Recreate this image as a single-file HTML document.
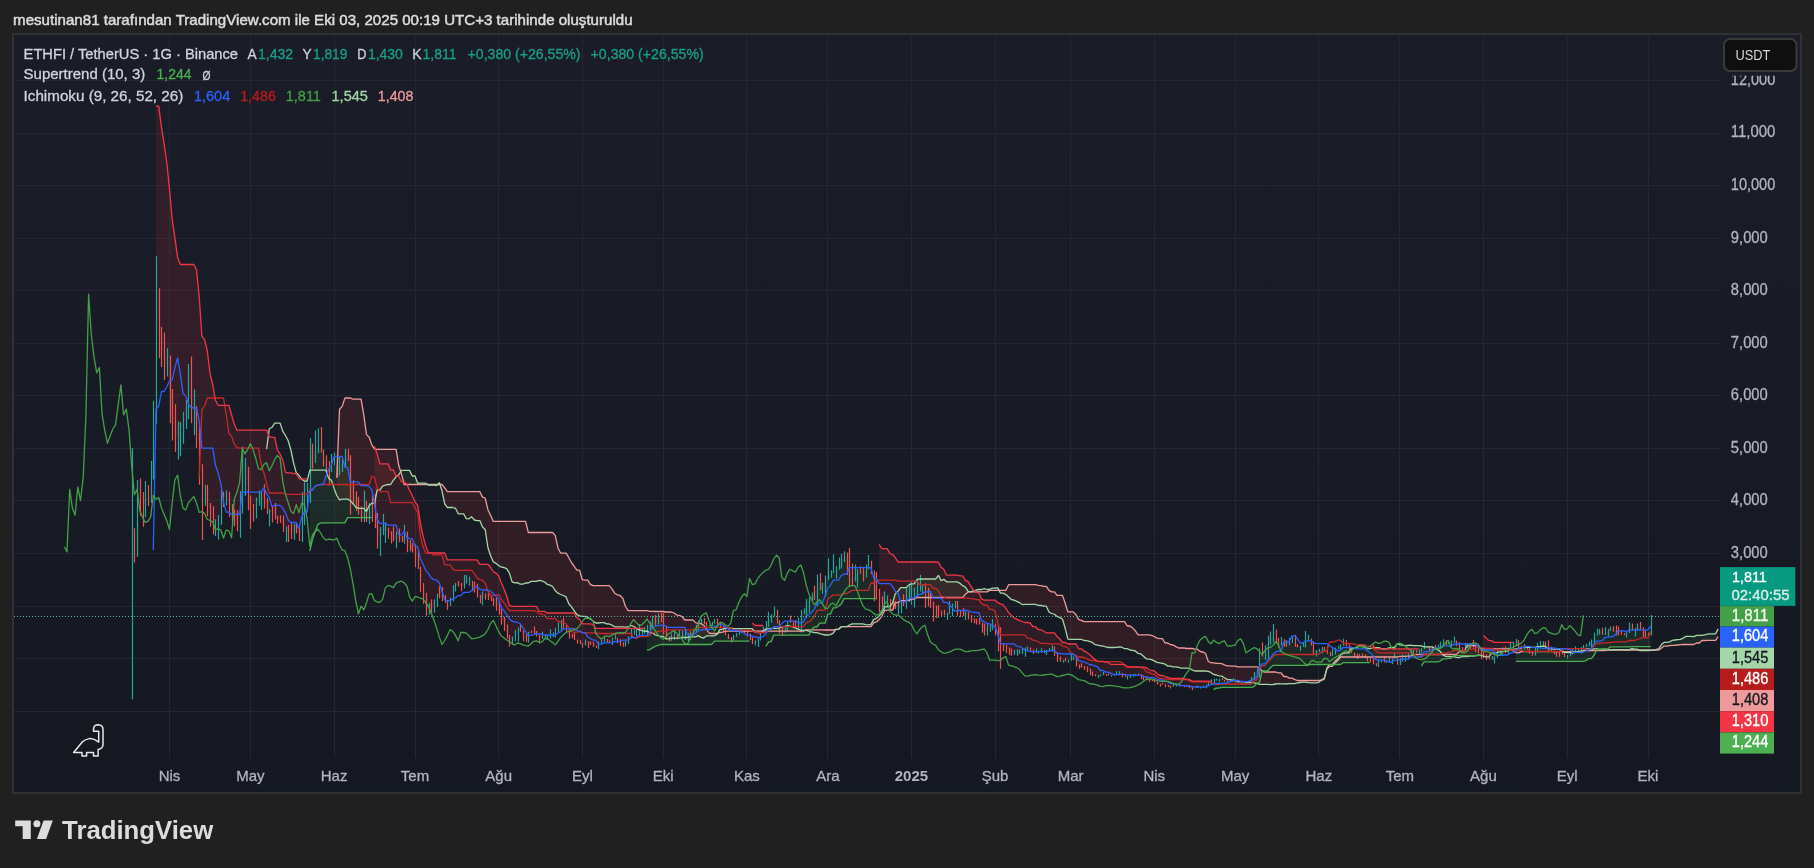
<!DOCTYPE html>
<html><head><meta charset="utf-8"><title>ETHFI / TetherUS</title>
<style>html,body{margin:0;padding:0;background:#202020;width:1814px;height:868px;overflow:hidden}svg{display:block;will-change:transform;filter:blur(0.35px)}</style>
</head><body>
<svg width="1814" height="868" viewBox="0 0 1814 868" font-family="'Liberation Sans', Arial, sans-serif"><rect x="0" y="0" width="1814" height="868" fill="#202020"/>
<rect x="12" y="33" width="1790" height="761" fill="#303135"/>
<defs><linearGradient id="bgg" x1="0" y1="0" x2="0" y2="1"><stop offset="0" stop-color="#1a1c27"/><stop offset="0.5" stop-color="#181b25"/><stop offset="1" stop-color="#141821"/></linearGradient></defs>
<rect x="14" y="35" width="1786" height="757" fill="url(#bgg)"/>
<path d="M14 80.5H1720M14 133.5H1720M14 185.5H1720M14 238.5H1720M14 290.5H1720M14 343.5H1720M14 395.5H1720M14 448.5H1720M14 500.5H1720M14 553.5H1720M14 606.5H1720M14 658.5H1720M14 711.5H1720M169.5 35V758M250.5 35V758M334.5 35V758M415.5 35V758M498.5 35V758M582.5 35V758M663.5 35V758M746.5 35V758M827.5 35V758M911.5 35V758M995.5 35V758M1070.5 35V758M1154.5 35V758M1235.5 35V758M1318.5 35V758M1399.5 35V758M1483.5 35V758M1567.5 35V758M1648.5 35V758" stroke="#242733" stroke-width="1" fill="none"/>
<clipPath id="pane"><rect x="14" y="35" width="1706" height="723"/></clipPath>
<g clip-path="url(#pane)">
<path d="M336.8 495.5L339.5 499.8L342.2 499.2L344.9 499.2L347.6 499.2L350.3 500.6L353.0 503.7L355.7 507.2L358.4 508.4L361.1 508.4L363.8 508.4L366.5 511.5L369.2 505.6L371.9 503.2L374.5 503.2L377.2 490.0L379.9 490.0L382.6 486.2L385.3 485.1L388.0 484.5L390.7 484.5L393.4 480.2L396.1 476.8L398.8 474.8L398.8 465.8L396.1 449.3L393.4 449.3L390.7 449.3L388.0 449.3L385.3 449.3L382.6 449.3L379.9 449.3L377.2 449.3L374.5 448.8L371.9 445.1L369.2 437.2L366.5 434.6L363.8 415.1L361.1 399.1L358.4 399.1L355.7 399.1L353.0 399.1L350.3 398.0L347.6 398.0L344.9 398.0L342.2 406.4L339.5 409.3L336.8 477.7Z" fill="rgba(244,67,54,0.12)"/>
<path d="M398.8 474.8L401.5 470.4L404.2 470.4L406.9 470.4L409.6 470.4L412.3 476.0L415.0 476.0L417.7 483.2L420.4 483.2L423.1 483.2L425.8 483.2L425.8 484.5L423.1 484.5L420.4 484.5L417.7 484.5L415.0 484.5L412.3 484.5L409.6 484.5L406.9 484.5L404.2 484.5L401.5 474.0L398.8 465.8Z" fill="rgba(67,160,71,0.12)"/>
<path d="M425.8 483.2L428.5 485.0L431.2 485.0L433.9 485.0L436.6 485.5L436.6 484.5L433.9 484.5L431.2 484.5L428.5 484.5L425.8 484.5Z" fill="rgba(244,67,54,0.12)"/>
<path d="M436.6 485.5L439.3 482.8L439.3 484.5L436.6 484.5Z" fill="rgba(67,160,71,0.12)"/>
<path d="M439.3 482.8L442.0 490.8L444.7 503.8L447.4 507.5L450.1 507.5L452.8 507.5L455.5 508.3L458.2 513.8L460.9 513.8L463.6 513.8L466.3 518.6L469.0 518.8L471.7 516.8L474.4 520.0L477.1 520.6L479.8 520.6L482.5 527.1L485.2 529.5L487.9 547.5L490.6 555.7L493.3 561.8L496.0 563.4L498.7 565.6L501.4 567.2L504.1 567.5L506.8 568.9L509.4 573.1L512.1 581.9L514.8 582.9L517.5 582.6L520.2 584.2L522.9 584.1L525.6 583.0L528.3 583.0L531.0 581.4L533.7 581.4L536.4 581.4L539.1 580.4L541.8 580.9L544.5 582.0L547.2 584.3L549.9 585.1L552.6 586.5L555.3 590.7L558.0 593.2L560.7 594.5L563.4 595.5L566.1 596.9L568.8 603.8L571.5 606.9L574.2 610.8L576.9 614.6L579.6 615.9L582.3 616.4L585.0 616.4L587.7 617.2L590.4 619.1L593.1 621.1L595.8 623.0L598.5 623.0L601.2 622.6L603.9 622.6L606.6 623.9L609.3 624.0L612.0 625.1L614.7 626.8L617.4 626.8L620.1 626.8L622.8 626.8L625.5 627.1L628.2 627.0L630.9 625.5L633.6 626.3L636.3 628.2L639.0 629.9L641.6 630.5L644.3 631.3L647.0 631.0L649.7 632.7L652.4 632.7L655.1 634.8L657.8 635.7L660.5 636.5L663.2 636.5L665.9 638.9L668.6 638.8L671.3 638.2L674.0 638.2L676.7 638.2L679.4 638.2L682.1 637.5L684.8 637.5L687.5 637.5L690.2 636.8L692.9 636.8L695.6 636.8L698.3 635.6L701.0 637.4L703.7 638.0L706.4 635.9L709.1 635.9L711.8 635.9L714.5 635.8L717.2 634.1L717.2 633.5L714.5 633.5L711.8 633.5L709.1 633.0L706.4 629.0L703.7 625.2L701.0 623.6L698.3 623.5L695.6 622.6L692.9 620.0L690.2 620.0L687.5 620.0L684.8 620.0L682.1 616.5L679.4 615.3L676.7 615.1L674.0 613.0L671.3 612.0L668.6 612.0L665.9 612.0L663.2 611.5L660.5 611.5L657.8 611.5L655.1 611.5L652.4 611.3L649.7 611.3L647.0 610.6L644.3 610.6L641.6 610.6L639.0 610.6L636.3 610.6L633.6 610.6L630.9 610.6L628.2 610.6L625.5 606.5L622.8 598.3L620.1 595.5L617.4 594.8L614.7 593.2L612.0 588.9L609.3 585.7L606.6 585.7L603.9 585.7L601.2 585.7L598.5 585.7L595.8 585.7L593.1 585.7L590.4 584.4L587.7 580.1L585.0 580.1L582.3 579.7L579.6 570.2L576.9 570.2L574.2 566.3L571.5 562.5L568.8 557.7L566.1 553.2L563.4 553.2L560.7 553.2L558.0 548.0L555.3 535.6L552.6 532.5L549.9 532.5L547.2 532.5L544.5 532.5L541.8 532.5L539.1 532.5L536.4 532.5L533.7 532.5L531.0 532.5L528.3 532.5L525.6 521.4L522.9 521.4L520.2 521.4L517.5 521.4L514.8 521.4L512.1 521.4L509.4 521.4L506.8 521.4L504.1 521.4L501.4 521.4L498.7 521.4L496.0 521.4L493.3 521.4L490.6 515.3L487.9 509.7L485.2 498.0L482.5 497.1L479.8 491.6L477.1 491.6L474.4 491.6L471.7 491.6L469.0 491.6L466.3 491.6L463.6 491.6L460.9 491.6L458.2 491.6L455.5 491.6L452.8 491.6L450.1 491.6L447.4 491.6L444.7 487.9L442.0 484.5L439.3 484.5Z" fill="rgba(244,67,54,0.12)"/>
<path d="M717.2 634.1L719.9 629.6L722.6 629.2L725.3 628.4L728.0 628.2L730.7 628.0L733.4 628.6L736.1 628.6L738.8 628.6L741.5 628.6L744.2 628.6L746.9 628.6L749.6 628.6L752.3 628.6L752.3 631.1L749.6 631.1L746.9 631.1L744.2 631.1L741.5 631.1L738.8 631.1L736.1 631.1L733.4 631.1L730.7 631.1L728.0 631.1L725.3 631.3L722.6 632.1L719.9 632.5L717.2 633.5Z" fill="rgba(67,160,71,0.12)"/>
<path d="M752.3 628.6L755.0 632.1L757.7 632.7L760.4 632.5L760.4 631.1L757.7 631.1L755.0 631.1L752.3 631.1Z" fill="rgba(244,67,54,0.12)"/>
<path d="M760.4 632.5L763.1 630.7L765.8 629.1L768.5 628.6L771.2 628.4L773.9 628.4L776.5 628.4L779.2 628.2L781.9 626.9L784.6 626.5L787.3 625.7L790.0 626.1L792.7 626.9L795.4 628.0L798.1 629.1L800.8 630.4L803.5 630.4L803.5 631.1L800.8 631.1L798.1 631.1L795.4 631.1L792.7 631.1L790.0 631.1L787.3 631.1L784.6 631.1L781.9 631.1L779.2 631.1L776.5 631.1L773.9 631.1L771.2 631.1L768.5 631.1L765.8 631.1L763.1 631.1L760.4 631.1Z" fill="rgba(67,160,71,0.12)"/>
<path d="M803.5 630.4L806.2 630.4L808.9 631.1L811.6 631.9L814.3 632.7L817.0 632.7L819.7 633.6L822.4 634.3L825.1 635.0L827.8 635.0L830.5 634.6L833.2 633.2L835.9 629.3L838.6 629.3L841.3 626.7L844.0 626.7L846.7 626.7L846.7 626.7L844.0 626.7L841.3 626.7L838.6 629.3L835.9 629.3L833.2 630.0L830.5 630.0L827.8 630.0L825.1 630.0L822.4 629.8L819.7 629.8L817.0 629.8L814.3 629.8L811.6 629.8L808.9 629.8L806.2 629.8L803.5 631.1Z" fill="rgba(244,67,54,0.12)"/>
<path d="M846.7 626.7L849.4 625.0L852.1 623.9L854.8 623.9L857.5 623.9L860.2 623.9L862.9 623.9L865.6 624.7L868.3 624.8L871.0 624.4L873.7 619.4L876.4 618.3L879.1 616.1L881.8 612.7L884.5 607.1L887.2 606.5L889.9 606.5L892.6 602.9L895.3 593.7L898.0 591.2L900.7 587.6L903.4 587.6L906.1 587.6L908.8 585.0L911.4 583.8L914.1 583.8L916.8 579.8L919.5 579.0L922.2 578.9L924.9 579.0L927.6 579.0L930.3 579.0L933.0 579.0L935.7 579.0L938.4 575.4L941.1 580.6L943.8 579.3L946.5 581.8L949.2 581.8L951.9 581.9L954.6 581.9L957.3 581.9L960.0 583.3L962.7 585.7L965.4 587.1L968.1 591.3L970.8 591.9L973.5 590.9L976.2 590.0L978.9 589.5L981.6 589.5L984.3 588.6L987.0 589.5L989.7 589.3L992.4 588.2L995.1 588.2L997.8 587.9L997.8 590.3L995.1 590.3L992.4 590.3L989.7 590.4L987.0 591.9L984.3 591.9L981.6 591.9L978.9 591.9L976.2 591.9L973.5 591.9L970.8 591.9L968.1 591.9L965.4 594.2L962.7 597.5L960.0 597.5L957.3 597.5L954.6 597.5L951.9 597.5L949.2 597.5L946.5 597.5L943.8 597.5L941.1 597.5L938.4 597.5L935.7 597.5L933.0 597.5L930.3 597.5L927.6 597.5L924.9 597.5L922.2 597.5L919.5 597.5L916.8 597.5L914.1 599.1L911.4 599.1L908.8 600.3L906.1 600.7L903.4 600.7L900.7 600.7L898.0 602.6L895.3 602.6L892.6 610.2L889.9 610.2L887.2 610.2L884.5 610.7L881.8 616.3L879.1 619.7L876.4 621.9L873.7 622.9L871.0 626.7L868.3 626.7L865.6 626.7L862.9 626.7L860.2 626.7L857.5 626.7L854.8 626.7L852.1 626.7L849.4 626.7L846.7 626.7Z" fill="rgba(67,160,71,0.12)"/>
<path d="M997.8 587.9L1000.5 593.2L1003.2 593.2L1005.9 594.6L1008.6 597.0L1011.3 599.5L1014.0 600.2L1016.7 601.3L1019.4 602.6L1022.1 604.6L1024.8 604.3L1027.5 604.3L1030.2 604.3L1032.9 604.3L1035.6 604.3L1038.3 605.3L1041.0 605.5L1043.7 606.2L1046.3 606.2L1049.0 612.1L1051.7 613.5L1054.4 614.3L1057.1 616.6L1059.8 617.4L1062.5 619.2L1065.2 628.3L1067.9 639.1L1070.6 639.3L1073.3 639.3L1076.0 639.3L1078.7 639.3L1081.4 639.3L1084.1 640.5L1086.8 640.7L1089.5 641.4L1092.2 642.4L1094.9 644.6L1097.6 645.0L1100.3 645.9L1103.0 646.0L1105.7 646.8L1108.4 647.5L1111.1 647.5L1113.8 647.5L1116.5 647.3L1119.2 647.0L1121.9 647.2L1124.6 648.7L1127.3 648.7L1130.0 650.0L1132.7 650.3L1135.4 651.0L1138.1 653.4L1140.8 653.9L1143.5 656.2L1146.2 658.8L1148.9 659.1L1151.6 659.7L1154.3 660.9L1157.0 662.4L1159.7 662.8L1162.4 663.3L1165.1 664.2L1167.8 666.1L1170.5 666.1L1173.2 666.8L1175.9 666.9L1178.6 667.4L1181.2 668.2L1183.9 668.1L1186.6 668.1L1189.3 668.3L1192.0 669.8L1194.7 671.0L1197.4 671.0L1200.1 671.0L1202.8 671.0L1205.5 671.0L1208.2 671.4L1210.9 672.4L1213.6 674.4L1216.3 675.0L1219.0 675.8L1221.7 676.1L1224.4 677.7L1227.1 679.4L1229.8 679.6L1232.5 680.2L1235.2 680.5L1237.9 681.5L1240.6 681.7L1243.3 681.7L1246.0 682.3L1248.7 682.6L1251.4 682.6L1254.1 682.9L1256.8 683.3L1259.5 684.3L1262.2 684.3L1264.9 684.3L1267.6 684.3L1270.3 684.6L1273.0 684.5L1275.7 684.0L1278.4 683.6L1281.1 683.8L1283.8 683.9L1286.5 684.0L1289.2 683.7L1291.9 683.6L1294.6 683.6L1297.3 682.9L1300.0 682.5L1302.7 682.2L1305.4 682.2L1308.1 682.7L1310.8 682.8L1313.5 682.8L1316.2 682.8L1318.8 682.3L1318.8 680.5L1316.2 680.5L1313.5 680.5L1310.8 680.5L1308.1 680.5L1305.4 680.5L1302.7 680.5L1300.0 680.5L1297.3 680.5L1294.6 679.3L1291.9 678.2L1289.2 678.1L1286.5 676.5L1283.8 676.5L1281.1 672.8L1278.4 672.8L1275.7 672.0L1273.0 672.0L1270.3 672.0L1267.6 672.0L1264.9 672.0L1262.2 671.3L1259.5 668.3L1256.8 666.8L1254.1 666.8L1251.4 666.8L1248.7 666.8L1246.0 666.8L1243.3 666.8L1240.6 666.8L1237.9 666.8L1235.2 666.2L1232.5 666.2L1229.8 665.8L1227.1 665.8L1224.4 664.8L1221.7 663.7L1219.0 663.4L1216.3 663.4L1213.6 662.8L1210.9 662.7L1208.2 661.2L1205.5 653.4L1202.8 652.0L1200.1 651.5L1197.4 649.2L1194.7 649.2L1192.0 648.5L1189.3 648.5L1186.6 648.5L1183.9 648.0L1181.2 648.0L1178.6 648.0L1175.9 646.6L1173.2 645.0L1170.5 644.7L1167.8 643.0L1165.1 643.0L1162.4 638.6L1159.7 638.6L1157.0 638.1L1154.3 636.5L1151.6 635.4L1148.9 634.8L1146.2 634.8L1143.5 634.8L1140.8 634.8L1138.1 634.8L1135.4 630.8L1132.7 628.1L1130.0 626.0L1127.3 626.0L1124.6 621.7L1121.9 621.7L1119.2 621.7L1116.5 621.7L1113.8 621.7L1111.1 621.7L1108.4 621.7L1105.7 621.7L1103.0 621.7L1100.3 621.7L1097.6 621.7L1094.9 621.7L1092.2 621.7L1089.5 621.7L1086.8 621.7L1084.1 621.7L1081.4 620.4L1078.7 619.6L1076.0 614.7L1073.3 611.9L1070.6 611.9L1067.9 611.9L1065.2 603.2L1062.5 595.4L1059.8 595.4L1057.1 595.4L1054.4 591.8L1051.7 591.8L1049.0 590.4L1046.3 586.3L1043.7 586.3L1041.0 585.6L1038.3 585.4L1035.6 584.7L1032.9 584.7L1030.2 584.7L1027.5 584.7L1024.8 584.7L1022.1 584.7L1019.4 584.7L1016.7 584.7L1014.0 584.7L1011.3 584.7L1008.6 584.7L1005.9 590.3L1003.2 590.3L1000.5 590.3L997.8 590.3Z" fill="rgba(244,67,54,0.12)"/>
<path d="M1318.8 682.3L1321.5 679.8L1324.2 678.2L1326.9 667.9L1329.6 664.7L1332.3 664.7L1335.0 661.3L1337.7 659.0L1340.4 655.1L1343.1 653.3L1345.8 652.8L1348.5 652.8L1351.2 648.3L1353.9 648.3L1356.6 648.1L1359.3 645.1L1362.0 645.1L1364.7 646.5L1367.4 648.7L1370.1 648.7L1372.8 647.7L1375.5 647.7L1378.2 647.7L1380.9 648.4L1383.6 649.0L1386.3 648.9L1389.0 647.8L1391.7 647.3L1394.4 647.3L1397.1 643.9L1399.8 644.7L1402.5 645.4L1405.2 645.6L1407.9 645.3L1410.6 645.2L1413.3 645.6L1416.0 645.6L1418.7 645.6L1421.4 645.8L1424.1 646.9L1426.8 646.9L1429.5 646.9L1432.2 646.9L1434.9 648.5L1437.6 649.6L1440.3 651.5L1440.3 654.5L1437.6 654.5L1434.9 654.5L1432.2 654.5L1429.5 654.5L1426.8 654.5L1424.1 654.5L1421.4 654.5L1418.7 654.5L1416.0 654.5L1413.3 654.7L1410.6 656.1L1407.9 656.1L1405.2 656.3L1402.5 656.3L1399.8 656.3L1397.1 657.0L1394.4 657.0L1391.7 657.0L1389.0 657.0L1386.3 657.0L1383.6 657.0L1380.9 657.0L1378.2 657.0L1375.5 657.0L1372.8 657.0L1370.1 657.0L1367.4 657.0L1364.7 657.0L1362.0 657.0L1359.3 657.0L1356.6 657.0L1353.9 657.0L1351.2 657.0L1348.5 657.0L1345.8 657.0L1343.1 657.0L1340.4 657.0L1337.7 660.8L1335.0 662.9L1332.3 666.3L1329.6 666.3L1326.9 669.1L1324.2 679.4L1321.5 680.5L1318.8 680.5Z" fill="rgba(67,160,71,0.12)"/>
<path d="M1440.3 651.5L1443.0 655.0L1445.7 656.4L1448.4 656.6L1451.0 656.6L1453.7 656.7L1456.4 657.4L1459.1 657.6L1461.8 656.5L1464.5 656.5L1467.2 656.5L1469.9 656.0L1472.6 656.0L1475.3 655.9L1478.0 655.0L1480.7 655.3L1483.4 656.2L1486.1 656.9L1488.8 656.9L1491.5 653.2L1494.2 653.2L1496.9 652.7L1499.6 651.9L1502.3 651.9L1505.0 651.2L1507.7 651.0L1510.4 649.5L1510.4 648.9L1507.7 648.9L1505.0 648.9L1502.3 648.9L1499.6 648.9L1496.9 648.9L1494.2 648.9L1491.5 648.9L1488.8 648.9L1486.1 648.9L1483.4 648.9L1480.7 648.2L1478.0 645.5L1475.3 645.5L1472.6 645.5L1469.9 645.5L1467.2 645.5L1464.5 651.0L1461.8 651.0L1459.1 651.9L1456.4 654.2L1453.7 654.3L1451.0 654.5L1448.4 654.5L1445.7 654.5L1443.0 654.5L1440.3 654.5Z" fill="rgba(244,67,54,0.12)"/>
<path d="M1510.4 649.5L1513.1 649.5L1515.8 649.0L1518.5 649.0L1521.2 647.6L1523.9 647.3L1526.6 647.4L1529.3 647.4L1532.0 647.4L1534.7 647.4L1537.4 646.6L1540.1 646.6L1542.8 646.2L1545.5 646.4L1548.2 648.7L1550.9 648.7L1553.6 649.2L1556.3 649.2L1559.0 649.2L1561.7 650.8L1561.7 651.7L1559.0 651.7L1556.3 651.7L1553.6 651.7L1550.9 651.7L1548.2 651.7L1545.5 651.7L1542.8 651.7L1540.1 651.7L1537.4 651.7L1534.7 651.7L1532.0 651.7L1529.3 651.7L1526.6 651.7L1523.9 651.7L1521.2 651.7L1518.5 652.9L1515.8 652.7L1513.1 651.0L1510.4 648.9Z" fill="rgba(67,160,71,0.12)"/>
<path d="M1561.7 650.8L1564.4 652.4L1567.1 652.6L1569.8 652.7L1572.5 652.5L1575.2 652.5L1575.2 651.7L1572.5 651.7L1569.8 651.7L1567.1 651.7L1564.4 651.7L1561.7 651.7Z" fill="rgba(244,67,54,0.12)"/>
<path d="M1575.2 652.5L1577.9 651.5L1580.6 651.3L1583.3 650.6L1586.0 649.2L1588.6 648.7L1591.3 649.3L1594.0 648.8L1596.7 648.8L1599.4 649.3L1602.1 649.3L1604.8 649.3L1607.5 649.6L1610.2 649.8L1612.9 649.8L1615.6 649.6L1618.3 649.6L1621.0 649.6L1623.7 649.9L1626.4 649.9L1629.1 649.9L1631.8 648.5L1634.5 649.1L1637.2 649.1L1637.2 650.0L1634.5 650.0L1631.8 650.0L1629.1 650.0L1626.4 650.0L1623.7 650.0L1621.0 650.0L1618.3 650.0L1615.6 650.0L1612.9 650.0L1610.2 650.0L1607.5 650.0L1604.8 650.7L1602.1 650.7L1599.4 650.7L1596.7 650.7L1594.0 650.7L1591.3 650.7L1588.6 650.7L1586.0 650.7L1583.3 651.7L1580.6 651.7L1577.9 651.7L1575.2 651.7Z" fill="rgba(67,160,71,0.12)"/>
<path d="M1637.2 649.1L1639.9 650.6L1642.6 650.5L1645.3 650.5L1648.0 650.5L1650.7 650.3L1653.4 650.2L1653.4 650.0L1650.7 650.0L1648.0 650.0L1645.3 650.0L1642.6 650.0L1639.9 650.0L1637.2 650.0Z" fill="rgba(244,67,54,0.12)"/>
<path d="M1653.4 650.2L1656.1 649.7L1658.8 648.5L1661.5 644.6L1664.2 642.3L1666.9 642.3L1669.6 641.9L1672.3 640.3L1675.0 640.0L1677.7 639.7L1680.4 639.4L1683.1 638.2L1685.8 636.4L1688.5 636.4L1691.2 636.4L1693.9 636.7L1696.6 635.3L1699.3 635.3L1702.0 635.3L1704.7 634.8L1707.4 634.2L1710.1 633.8L1712.8 633.8L1715.5 633.8L1718.2 628.9L1718.2 636.7L1715.5 640.3L1712.8 640.3L1710.1 640.3L1707.4 640.3L1704.7 640.5L1702.0 640.5L1699.3 643.0L1696.6 643.0L1693.9 644.5L1691.2 644.5L1688.5 644.5L1685.8 644.5L1683.1 644.5L1680.4 644.7L1677.7 645.0L1675.0 645.3L1672.3 645.3L1669.6 645.7L1666.9 646.1L1664.2 646.1L1661.5 648.1L1658.8 650.0L1656.1 650.0L1653.4 650.0Z" fill="rgba(67,160,71,0.12)"/>
<path d="M156.0 106.2L158.7 106.2L161.4 126.7L164.1 143.5L166.8 162.5L169.5 189.2L172.2 219.3L174.9 237.9L177.6 257.5L180.3 264.5L183.0 264.5L185.7 264.5L188.4 264.5L191.1 264.5L193.8 264.5L196.5 269.5L199.2 296.8L201.9 336.2L204.6 339.7L207.3 351.0L210.0 373.3L212.7 384.5L215.4 400.3L218.1 405.3L220.8 405.3L223.5 405.3L226.2 405.3L228.9 405.3L231.6 415.0L234.3 424.2L236.9 430.1L239.6 430.1L242.3 430.1L245.0 430.1L247.7 430.1L250.4 430.1L253.1 430.1L255.8 430.1L258.5 430.1L261.2 430.1L263.9 430.1L266.6 430.1L269.3 436.9L272.0 437.3L274.7 437.3L277.4 449.8L280.1 454.2L282.8 460.2L285.5 472.4L288.2 472.8L290.9 472.8L293.6 473.6L296.3 473.6L299.0 478.8L301.7 478.8L304.4 478.8L307.1 478.8L307.1 487.6L304.4 495.7L301.7 518.4L299.0 534.3L296.3 530.4L293.6 534.0L290.9 534.0L288.2 529.3L285.5 529.2L282.8 525.8L280.1 521.1L277.4 520.0L274.7 516.4L272.0 512.5L269.3 512.0L266.6 507.7L263.9 499.8L261.2 498.0L258.5 501.1L255.8 506.3L253.1 509.0L250.4 501.8L247.7 485.3L245.0 477.5L242.3 491.0L239.6 515.9L236.9 525.1L234.3 517.6L231.6 510.9L228.9 502.5L226.2 498.3L223.5 497.3L220.8 506.0L218.1 519.1L215.4 521.9L212.7 519.8L210.0 513.9L207.3 499.9L204.6 492.1L201.9 480.5L199.2 447.9L196.5 419.3L193.8 412.0L191.1 399.9L188.4 394.9L185.7 414.9L183.0 426.9L180.3 432.4L177.6 439.5L174.9 436.6L172.2 421.7L169.5 390.4L166.8 370.2L164.1 365.0L161.4 346.1L158.7 314.5L156.0 355.2Z" fill="rgba(242,54,69,0.12)"/>
<path d="M374.5 446.2L377.2 454.1L379.9 463.8L382.6 463.8L385.3 463.8L388.0 463.8L390.7 470.0L393.4 470.0L396.1 476.2L398.8 476.2L401.5 481.8L404.2 481.8L406.9 484.2L409.6 490.4L412.3 495.4L415.0 501.9L417.7 505.3L420.4 523.0L423.1 536.3L425.8 546.1L428.5 552.9L431.2 552.9L433.9 553.0L436.6 553.0L439.3 553.0L442.0 553.0L444.7 553.0L447.4 559.9L450.1 559.9L452.8 559.9L455.5 559.9L458.2 559.9L460.9 559.9L463.6 559.9L466.3 559.9L469.0 559.9L471.7 559.9L474.4 559.9L477.1 559.9L479.8 564.3L482.5 564.3L485.2 564.3L487.9 564.3L490.6 567.3L493.3 571.5L496.0 573.1L498.7 575.7L501.4 583.1L504.1 589.3L506.8 596.3L509.4 605.5L512.1 606.3L514.8 606.3L517.5 606.3L520.2 606.3L522.9 606.3L525.6 606.3L528.3 606.3L531.0 606.3L533.7 606.3L536.4 606.3L539.1 611.4L541.8 611.4L544.5 611.4L547.2 613.0L549.9 613.0L552.6 613.0L555.3 613.0L558.0 613.0L560.7 613.0L563.4 613.0L566.1 613.0L568.8 613.0L571.5 613.0L574.2 613.0L576.9 617.7L579.6 619.6L582.3 623.8L585.0 623.8L587.7 623.8L590.4 623.8L593.1 624.6L595.8 628.3L598.5 628.3L601.2 628.3L603.9 628.3L606.6 628.3L609.3 628.3L612.0 628.3L614.7 628.3L617.4 628.3L620.1 628.3L622.8 628.3L625.5 628.3L628.2 628.3L630.9 628.3L633.6 628.3L636.3 628.3L639.0 628.3L641.6 628.3L644.3 628.3L644.3 629.2L641.6 630.2L639.0 631.0L636.3 631.9L633.6 633.6L630.9 636.1L628.2 639.4L625.5 643.1L622.8 643.6L620.1 641.5L617.4 639.4L614.7 638.7L612.0 640.6L609.3 642.1L606.6 641.5L603.9 641.1L601.2 642.5L598.5 644.9L595.8 645.9L593.1 645.3L590.4 644.3L587.7 643.3L585.0 644.0L582.3 644.3L579.6 642.6L576.9 640.9L574.2 639.1L571.5 637.1L568.8 633.9L566.1 628.8L563.4 623.1L560.7 622.0L558.0 626.5L555.3 631.6L552.6 634.7L549.9 636.4L547.2 637.5L544.5 638.1L541.8 638.6L539.1 637.3L536.4 634.4L533.7 632.8L531.0 632.4L528.3 636.6L525.6 638.1L522.9 633.4L520.2 630.5L517.5 632.5L514.8 638.0L512.1 642.5L509.4 640.8L506.8 632.5L504.1 623.9L501.4 616.3L498.7 609.6L496.0 604.5L493.3 600.9L490.6 598.7L487.9 597.6L485.2 596.8L482.5 598.8L479.8 598.9L477.1 591.5L474.4 584.6L471.7 582.1L469.0 581.5L466.3 582.5L463.6 585.5L460.9 586.9L458.2 585.8L455.5 586.8L452.8 593.6L450.1 600.7L447.4 602.1L444.7 601.3L442.0 597.3L439.3 594.0L436.6 598.3L433.9 606.3L431.2 608.0L428.5 610.1L425.8 607.2L423.1 592.0L420.4 576.1L417.7 563.2L415.0 554.3L412.3 550.3L409.6 547.5L406.9 541.6L404.2 539.1L401.5 539.8L398.8 539.3L396.1 539.6L393.4 539.0L390.7 535.3L388.0 530.9L385.3 530.3L382.6 533.2L379.9 540.7L377.2 532.4L374.5 511.3Z" fill="rgba(242,54,69,0.12)"/>
<path d="M752.3 623.1L755.0 625.5L757.7 625.5L760.4 625.5L763.1 625.5L763.1 630.9L760.4 635.8L757.7 641.2L755.0 643.9L752.3 641.7Z" fill="rgba(242,54,69,0.12)"/>
<path d="M879.1 544.3L881.8 548.6L884.5 548.6L887.2 548.6L889.9 553.4L892.6 554.5L895.3 557.7L898.0 562.0L900.7 562.0L903.4 562.0L906.1 562.0L908.8 562.0L911.4 562.0L914.1 562.0L916.8 562.0L919.5 562.0L922.2 562.0L924.9 562.0L927.6 562.0L930.3 562.0L933.0 562.0L935.7 562.0L938.4 562.1L941.1 567.3L943.8 569.3L946.5 575.2L949.2 575.2L951.9 575.2L954.6 575.2L957.3 575.2L960.0 575.8L962.7 575.8L965.4 580.4L968.1 581.7L970.8 586.2L973.5 590.0L976.2 592.3L978.9 592.8L981.6 599.0L984.3 600.2L987.0 600.2L989.7 600.2L992.4 600.2L995.1 600.2L997.8 602.6L1000.5 603.8L1003.2 604.9L1005.9 608.4L1008.6 612.6L1011.3 615.2L1014.0 617.7L1016.7 619.4L1019.4 620.4L1022.1 621.5L1024.8 622.5L1027.5 622.5L1030.2 623.0L1032.9 626.6L1035.6 626.7L1038.3 629.7L1041.0 629.7L1043.7 631.2L1046.3 632.8L1049.0 632.8L1051.7 632.8L1054.4 632.8L1057.1 636.5L1059.8 639.0L1062.5 642.5L1065.2 642.5L1067.9 644.0L1070.6 644.0L1073.3 644.0L1076.0 644.0L1078.7 648.8L1081.4 648.8L1084.1 651.2L1086.8 652.4L1089.5 654.6L1092.2 656.9L1094.9 659.4L1097.6 661.3L1100.3 661.3L1103.0 661.3L1105.7 662.2L1108.4 662.4L1111.1 664.4L1113.8 664.4L1116.5 664.4L1119.2 664.4L1121.9 664.4L1124.6 664.6L1127.3 667.1L1130.0 667.1L1132.7 667.1L1135.4 667.1L1138.1 667.1L1140.8 667.1L1143.5 667.2L1146.2 667.6L1148.9 669.5L1151.6 670.5L1154.3 670.9L1157.0 673.4L1159.7 675.5L1162.4 675.5L1165.1 676.6L1167.8 677.3L1170.5 678.4L1173.2 678.4L1175.9 678.4L1178.6 678.4L1181.2 678.4L1183.9 678.7L1186.6 679.1L1189.3 679.4L1192.0 681.2L1194.7 681.2L1197.4 681.2L1200.1 681.2L1202.8 681.2L1205.5 681.2L1208.2 681.2L1210.9 681.2L1210.9 682.4L1208.2 684.1L1205.5 685.5L1202.8 686.6L1200.1 687.3L1197.4 687.7L1194.7 687.8L1192.0 687.6L1189.3 687.0L1186.6 686.5L1183.9 686.1L1181.2 685.8L1178.6 685.4L1175.9 685.4L1173.2 686.1L1170.5 686.5L1167.8 685.8L1165.1 684.7L1162.4 684.1L1159.7 683.9L1157.0 682.9L1154.3 681.4L1151.6 680.4L1148.9 679.9L1146.2 678.8L1143.5 676.9L1140.8 675.3L1138.1 674.4L1135.4 674.5L1132.7 675.2L1130.0 675.9L1127.3 676.4L1124.6 676.0L1121.9 674.7L1119.2 674.2L1116.5 674.5L1113.8 674.9L1111.1 675.2L1108.4 675.2L1105.7 674.9L1103.0 674.9L1100.3 675.2L1097.6 675.8L1094.9 676.0L1092.2 674.2L1089.5 670.9L1086.8 668.5L1084.1 667.2L1081.4 666.3L1078.7 665.6L1076.0 660.9L1073.3 657.2L1070.6 659.1L1067.9 660.5L1065.2 660.4L1062.5 660.2L1059.8 660.2L1057.1 656.6L1054.4 651.1L1051.7 649.3L1049.0 649.8L1046.3 650.4L1043.7 650.6L1041.0 650.7L1038.3 651.2L1035.6 651.6L1032.9 651.0L1030.2 649.7L1027.5 649.2L1024.8 649.3L1022.1 650.1L1019.4 651.4L1016.7 652.4L1014.0 653.0L1011.3 652.4L1008.6 650.7L1005.9 647.6L1003.2 644.7L1000.5 642.9L997.8 638.2L995.1 629.9L992.4 626.0L989.7 628.4L987.0 632.0L984.3 632.0L981.6 627.2L978.9 623.3L976.2 621.7L973.5 620.3L970.8 618.2L968.1 615.9L965.4 615.0L962.7 614.5L960.0 612.5L957.3 606.2L954.6 602.9L951.9 607.4L949.2 612.3L946.5 614.7L943.8 614.3L941.1 612.3L938.4 610.4L935.7 609.4L933.0 607.4L930.3 602.4L927.6 595.2L924.9 588.5L922.2 585.6L919.5 585.6L916.8 587.0L914.1 590.3L911.4 594.2L908.8 598.6L906.1 603.3L903.4 604.4L900.7 603.6L898.0 606.2L895.3 608.3L892.6 606.1L889.9 601.8L887.2 600.8L884.5 603.4L881.8 602.4L879.1 596.9Z" fill="rgba(242,54,69,0.12)"/>
<path d="M1372.8 644.7L1375.5 648.8L1378.2 648.8L1380.9 648.8L1383.6 648.8L1386.3 648.8L1389.0 648.8L1391.7 648.8L1394.4 648.8L1397.1 648.8L1399.8 648.8L1402.5 648.8L1405.2 648.8L1407.9 648.8L1410.6 648.8L1413.3 648.8L1416.0 648.8L1418.7 648.8L1418.7 651.0L1416.0 651.1L1413.3 651.5L1410.6 653.2L1407.9 655.1L1405.2 656.8L1402.5 658.6L1399.8 660.7L1397.1 660.1L1394.4 658.4L1391.7 660.2L1389.0 662.1L1386.3 662.2L1383.6 661.4L1380.9 660.8L1378.2 663.4L1375.5 664.9L1372.8 662.7Z" fill="rgba(242,54,69,0.12)"/>
<path d="M1483.4 635.6L1486.1 638.1L1488.8 640.4L1491.5 640.6L1494.2 642.4L1496.9 642.4L1499.6 642.4L1502.3 642.4L1505.0 642.4L1507.7 642.4L1510.4 642.4L1513.1 642.4L1513.1 644.4L1510.4 647.4L1507.7 648.7L1505.0 648.5L1502.3 649.7L1499.6 653.0L1496.9 656.1L1494.2 658.3L1491.5 659.4L1488.8 659.5L1486.1 658.7L1483.4 656.2Z" fill="rgba(242,54,69,0.12)"/>
<path d="M309.8 551.0L312.5 539.4L315.2 531.5L317.9 524.6L320.6 522.9L323.3 522.9L326.0 522.9L328.7 522.9L331.4 522.9L334.1 522.9L336.8 522.9L339.5 522.9L342.2 522.9L344.9 522.9L347.6 517.6L350.3 517.6L353.0 517.6L355.7 517.6L358.4 517.6L361.1 517.6L363.8 517.6L366.5 517.6L369.2 517.6L371.9 517.6L371.9 503.7L369.2 507.9L366.5 508.8L363.8 509.1L361.1 512.4L358.4 507.0L355.7 498.6L353.0 488.2L350.3 470.1L347.6 456.8L344.9 457.5L342.2 462.6L339.5 468.2L336.8 466.7L334.1 463.6L331.4 467.1L328.7 469.2L326.0 463.7L323.3 454.1L320.6 446.6L317.9 446.5L315.2 451.6L312.5 451.1L309.8 465.5Z" fill="rgba(76,175,80,0.12)"/>
<path d="M647.0 649.8L649.7 649.8L652.4 647.9L655.1 646.4L657.8 645.4L660.5 644.5L663.2 644.5L665.9 644.5L668.6 644.5L671.3 644.5L674.0 644.5L676.7 644.5L679.4 644.5L682.1 644.5L684.8 644.5L687.5 644.5L690.2 644.5L692.9 644.5L695.6 644.5L698.3 644.5L701.0 644.5L703.7 644.5L706.4 644.5L709.1 644.5L711.8 644.3L714.5 641.1L717.2 641.1L719.9 641.1L722.6 641.1L725.3 641.1L728.0 641.1L730.7 641.1L733.4 641.1L736.1 641.1L738.8 641.1L741.5 641.1L744.2 641.1L746.9 641.1L749.6 641.1L749.6 637.8L746.9 634.7L744.2 631.9L741.5 631.4L738.8 632.9L736.1 635.2L733.4 638.0L730.7 638.4L728.0 636.0L725.3 632.5L722.6 628.7L719.9 625.0L717.2 621.1L714.5 620.7L711.8 623.7L709.1 625.2L706.4 624.0L703.7 621.0L701.0 621.5L698.3 626.1L695.6 630.6L692.9 632.7L690.2 632.8L687.5 632.8L684.8 633.3L682.1 634.4L679.4 635.9L676.7 636.2L674.0 636.2L671.3 637.9L668.6 637.9L665.9 635.1L663.2 627.2L660.5 619.6L657.8 618.4L655.1 618.4L652.4 619.9L649.7 623.6L647.0 627.2Z" fill="rgba(76,175,80,0.12)"/>
<path d="M765.8 646.3L768.5 642.1L771.2 641.5L773.9 635.1L776.5 635.1L779.2 635.1L781.9 635.1L784.6 635.1L787.3 635.1L790.0 635.1L792.7 635.1L795.4 635.1L798.1 635.1L800.8 635.1L803.5 635.1L806.2 635.1L808.9 635.1L811.6 629.7L814.3 627.0L817.0 627.0L819.7 623.2L822.4 623.2L825.1 623.2L827.8 614.2L830.5 614.2L833.2 607.8L835.9 607.8L838.6 606.3L841.3 604.1L844.0 598.6L846.7 598.6L849.4 598.6L852.1 598.6L854.8 598.6L857.5 598.6L860.2 598.6L862.9 598.6L865.6 598.6L868.3 598.6L871.0 598.6L873.7 598.6L876.4 598.6L876.4 589.5L873.7 579.0L871.0 568.9L868.3 566.2L865.6 569.7L862.9 571.4L860.2 570.0L857.5 571.2L854.8 576.9L852.1 579.1L849.4 567.8L846.7 556.5L844.0 556.9L841.3 561.8L838.6 567.2L835.9 569.8L833.2 571.3L830.5 573.8L827.8 576.9L825.1 581.3L822.4 584.2L819.7 581.5L817.0 587.4L814.3 595.1L811.6 595.4L808.9 599.8L806.2 606.1L803.5 610.2L800.8 617.0L798.1 624.8L795.4 625.4L792.7 623.8L790.0 622.7L787.3 624.2L784.6 628.4L781.9 629.1L779.2 624.1L776.5 616.8L773.9 613.5L771.2 615.3L768.5 620.6L765.8 626.8Z" fill="rgba(76,175,80,0.12)"/>
<path d="M1213.6 689.6L1216.3 688.1L1219.0 688.1L1221.7 687.4L1224.4 687.4L1227.1 687.4L1229.8 687.4L1232.5 687.4L1235.2 687.4L1237.9 687.4L1240.6 687.4L1243.3 687.4L1246.0 687.4L1248.7 687.4L1251.4 687.4L1254.1 686.6L1256.8 683.3L1259.5 682.3L1262.2 671.0L1264.9 671.0L1267.6 671.0L1270.3 667.7L1273.0 665.4L1275.7 665.4L1278.4 665.4L1281.1 665.4L1283.8 665.4L1286.5 665.4L1289.2 665.4L1291.9 665.4L1294.6 665.4L1297.3 665.4L1300.0 665.4L1302.7 665.4L1305.4 665.4L1308.1 664.5L1310.8 664.5L1313.5 664.5L1316.2 664.5L1318.8 664.5L1321.5 664.5L1324.2 664.5L1326.9 664.5L1329.6 664.5L1332.3 664.5L1335.0 664.5L1337.7 664.5L1340.4 664.5L1343.1 662.7L1345.8 662.7L1348.5 662.7L1351.2 662.7L1353.9 662.7L1356.6 662.7L1359.3 662.7L1362.0 662.7L1364.7 662.7L1367.4 662.7L1370.1 662.7L1370.1 660.1L1367.4 658.2L1364.7 657.2L1362.0 656.5L1359.3 655.7L1356.6 654.8L1353.9 653.7L1351.2 652.4L1348.5 648.3L1345.8 643.4L1343.1 643.7L1340.4 646.4L1337.7 647.7L1335.0 649.2L1332.3 652.5L1329.6 653.1L1326.9 650.2L1324.2 648.2L1321.5 648.5L1318.8 650.2L1316.2 651.9L1313.5 648.1L1310.8 641.1L1308.1 639.7L1305.4 642.8L1302.7 645.3L1300.0 645.8L1297.3 645.9L1294.6 643.3L1291.9 641.3L1289.2 642.8L1286.5 643.1L1283.8 641.3L1281.1 641.9L1278.4 642.6L1275.7 638.9L1273.0 637.0L1270.3 638.9L1267.6 642.7L1264.9 649.2L1262.2 652.8L1259.5 661.2L1256.8 671.5L1254.1 675.2L1251.4 679.7L1248.7 683.2L1246.0 684.3L1243.3 683.9L1240.6 682.9L1237.9 681.9L1235.2 681.2L1232.5 681.3L1229.8 681.3L1227.1 680.9L1224.4 680.2L1221.7 679.4L1219.0 679.1L1216.3 679.3L1213.6 680.4Z" fill="rgba(76,175,80,0.12)"/>
<path d="M1421.4 666.0L1424.1 661.8L1426.8 661.8L1429.5 661.8L1432.2 661.8L1434.9 661.8L1437.6 661.8L1440.3 661.0L1443.0 658.8L1445.7 658.8L1448.4 658.4L1451.0 658.4L1453.7 655.6L1456.4 655.6L1459.1 655.6L1461.8 655.6L1464.5 655.6L1467.2 655.6L1469.9 655.6L1472.6 655.6L1475.3 655.6L1478.0 655.6L1480.7 655.6L1480.7 652.5L1478.0 649.3L1475.3 647.2L1472.6 645.1L1469.9 643.6L1467.2 643.5L1464.5 646.6L1461.8 648.7L1459.1 645.3L1456.4 641.8L1453.7 641.2L1451.0 642.2L1448.4 643.1L1445.7 642.6L1443.0 642.9L1440.3 645.0L1437.6 646.9L1434.9 647.7L1432.2 647.2L1429.5 646.8L1426.8 646.7L1424.1 647.6L1421.4 649.6Z" fill="rgba(76,175,80,0.12)"/>
<path d="M1515.8 661.3L1518.5 661.3L1521.2 661.3L1523.9 661.3L1526.6 661.3L1529.3 661.3L1532.0 661.3L1534.7 661.3L1537.4 661.3L1540.1 661.3L1542.8 661.3L1545.5 661.3L1548.2 661.3L1550.9 661.3L1553.6 661.3L1556.3 661.3L1559.0 661.3L1561.7 661.3L1564.4 661.3L1567.1 661.3L1569.8 661.3L1572.5 661.3L1575.2 661.3L1577.9 661.3L1580.6 661.3L1583.3 661.3L1586.0 660.7L1588.6 658.6L1591.3 658.6L1594.0 655.5L1596.7 649.8L1599.4 649.3L1602.1 649.0L1604.8 649.0L1607.5 649.0L1610.2 646.9L1612.9 646.9L1615.6 646.9L1618.3 646.9L1621.0 646.9L1623.7 646.9L1626.4 646.9L1629.1 646.9L1631.8 646.6L1634.5 646.6L1637.2 646.6L1639.9 646.6L1642.6 646.6L1645.3 646.6L1648.0 646.6L1650.7 646.6L1650.7 625.4L1648.0 635.2L1645.3 633.1L1642.6 629.8L1639.9 626.9L1637.2 627.2L1634.5 629.2L1631.8 627.0L1629.1 628.6L1626.4 633.4L1623.7 634.2L1621.0 633.7L1618.3 632.7L1615.6 630.1L1612.9 628.0L1610.2 628.9L1607.5 631.4L1604.8 633.2L1602.1 631.5L1599.4 630.4L1596.7 633.2L1594.0 637.9L1591.3 641.8L1588.6 643.9L1586.0 645.2L1583.3 646.4L1580.6 648.0L1577.9 649.3L1575.2 650.2L1572.5 651.4L1569.8 653.7L1567.1 655.4L1564.4 655.0L1561.7 653.7L1559.0 652.6L1556.3 651.7L1553.6 651.2L1550.9 649.9L1548.2 646.4L1545.5 643.6L1542.8 643.2L1540.1 645.0L1537.4 648.9L1534.7 652.0L1532.0 652.9L1529.3 651.0L1526.6 648.9L1523.9 648.8L1521.2 648.4L1518.5 644.0L1515.8 641.4Z" fill="rgba(76,175,80,0.12)"/>
<path d="M132.5 447.9V699.2M137.5 480.0V556.7M145.5 481.0V517.3M151.5 461.1V503.1M153.5 400.7V479.5M156.5 256.2V424.3M167.5 348.2V376.5M178.5 421.2V459.5M180.5 422.2V456.3M183.5 411.7V443.7M186.5 400.1V429.0M188.5 363.9V419.1M194.5 389.6V435.3M205.5 484.7V505.7M215.5 519.2V536.0M218.5 515.0V539.4M221.5 489.4V524.8M226.5 490.2V505.5M240.5 491.0V537.7M242.5 446.6V513.5M245.5 457.9V495.8M256.5 497.4V518.4M259.5 490.5V505.8M261.5 490.5V509.9M269.5 509.2V526.5M286.5 526.5V542.0M294.5 524.0V540.0M302.5 491.9V542.0M304.5 482.2V525.0M307.5 482.7V511.3M310.5 438.0V503.0M315.5 430.4V462.9M318.5 428.3V453.2M331.5 454.0V472.0M334.5 452.6V465.0M339.5 456.7V475.4M342.5 458.0V472.0M345.5 449.1V467.8M364.5 490.6V522.0M369.5 503.0V524.0M380.5 527.1V556.1M383.5 513.8V535.2M385.5 522.5V543.0M396.5 531.6V548.3M404.5 525.0V543.8M429.5 603.0V614.7M434.5 599.5V612.5M437.5 593.8V606.9M450.5 597.6V605.9M453.5 584.9V601.4M455.5 583.0V591.5M464.5 574.9V588.6M466.5 574.9V583.8M469.5 576.8V585.7M482.5 591.4V605.2M512.5 636.4V644.8M515.5 630.1V641.3M518.5 627.5V641.4M528.5 631.7V642.8M542.5 631.8V639.1M545.5 634.8V638.5M547.5 635.1V639.9M550.5 629.3V638.4M553.5 632.4V637.4M555.5 627.7V637.2M558.5 622.4V632.0M561.5 620.2V630.9M585.5 639.4V645.4M598.5 641.4V649.2M601.5 639.2V643.8M604.5 636.7V642.3M612.5 637.5V645.1M615.5 633.8V639.4M625.5 641.0V646.4M628.5 636.3V644.0M631.5 628.7V637.4M634.5 629.5V634.8M636.5 628.0V636.0M639.5 623.9V637.6M642.5 628.0V635.0M644.5 627.0V633.5M647.5 624.7V636.8M650.5 621.6V635.2M652.5 615.8V628.7M658.5 613.4V623.9M671.5 633.5V640.8M674.5 631.0V640.0M679.5 629.5V636.6M682.5 630.3V638.4M685.5 629.5V640.0M688.5 632.7V641.0M693.5 629.5V635.0M696.5 624.7V633.5M698.5 620.6V630.3M701.5 619.0V624.2M709.5 624.7V626.2M712.5 621.7V625.9M714.5 619.0V623.6M733.5 634.8V640.4M736.5 632.8V636.9M739.5 629.8V635.1M741.5 628.0V632.7M755.5 640.2V645.6M758.5 638.5V647.0M760.5 632.0V640.4M763.5 626.5V633.5M766.5 621.0V631.1M768.5 611.7V627.0M771.5 614.2V622.7M774.5 606.4V616.4M785.5 625.2V632.8M787.5 621.1V631.7M798.5 617.4V629.9M801.5 609.9V632.5M804.5 608.5V614.3M806.5 598.9V618.0M809.5 596.9V612.7M812.5 592.5V600.5M817.5 574.5V606.1M822.5 582.6V593.7M825.5 575.5V597.0M828.5 558.2V579.9M831.5 570.2V577.7M833.5 554.3V573.0M836.5 566.3V578.4M839.5 557.5V569.7M841.5 553.7V568.6M844.5 551.3V562.1M855.5 564.6V581.4M857.5 568.8V587.4M866.5 564.4V577.6M868.5 555.1V569.2M884.5 591.4V612.2M887.5 595.5V607.5M898.5 602.0V614.1M901.5 600.9V613.2M906.5 587.4V608.8M909.5 583.6V602.1M911.5 581.9V604.7M914.5 587.6V607.5M917.5 578.1V597.5M920.5 574.7V591.6M922.5 585.1V594.8M947.5 612.8V620.0M949.5 600.9V614.2M952.5 603.4V616.1M955.5 601.0V608.4M965.5 611.4V619.9M987.5 623.6V635.6M990.5 624.5V632.0M992.5 619.0V630.0M1014.5 650.0V655.0M1017.5 649.4V655.8M1019.5 649.4V654.0M1022.5 648.5V654.0M1025.5 647.5V656.8M1027.5 646.6V651.2M1036.5 648.4V653.0M1038.5 650.7V653.4M1041.5 648.3V652.5M1044.5 649.8V653.2M1046.5 650.1V655.0M1049.5 648.1V651.8M1052.5 645.2V651.7M1063.5 660.1V662.7M1068.5 659.7V662.8M1071.5 653.9V660.7M1073.5 656.5V660.0M1098.5 674.9V678.0M1100.5 674.4V676.3M1103.5 672.1V675.2M1111.5 675.0V676.6M1114.5 674.3V675.7M1116.5 671.3V675.1M1119.5 671.0V674.4M1127.5 676.1V679.5M1130.5 674.5V677.9M1133.5 674.2V676.8M1135.5 674.1V676.3M1173.5 683.8V686.8M1176.5 684.9V686.6M1195.5 687.3V688.3M1197.5 685.4V687.9M1200.5 686.7V688.6M1203.5 685.5V687.7M1206.5 684.4V688.3M1208.5 681.6V685.5M1211.5 679.3V684.0M1214.5 678.7V682.9M1216.5 678.6V680.5M1219.5 678.7V681.7M1233.5 678.3V681.5M1246.5 683.0V685.0M1249.5 680.0V684.7M1251.5 677.1V684.3M1254.5 672.1V679.8M1257.5 668.8V674.9M1259.5 648.2V678.0M1265.5 645.3V660.0M1268.5 635.7V659.2M1270.5 631.6V644.7M1273.5 624.0V642.6M1281.5 637.1V645.4M1289.5 637.8V645.4M1292.5 636.5V643.0M1300.5 645.4V650.9M1303.5 642.6V646.8M1305.5 630.9V647.5M1308.5 635.0V641.3M1316.5 650.1V656.4M1319.5 648.8V652.1M1322.5 646.7V653.4M1332.5 648.5V656.2M1335.5 647.6V654.7M1338.5 645.7V648.8M1340.5 644.3V650.1M1343.5 638.7V645.6M1378.5 659.8V667.0M1381.5 660.0V662.5M1386.5 661.4V663.0M1389.5 657.8V662.3M1392.5 658.2V663.9M1394.5 653.3V658.6M1400.5 657.7V664.9M1402.5 654.5V661.6M1405.5 655.2V661.8M1408.5 653.1V659.8M1411.5 649.3V654.7M1413.5 649.9V656.6M1419.5 649.3V653.7M1421.5 647.9V652.4M1424.5 642.0V649.0M1427.5 645.7V647.5M1438.5 644.5V651.2M1440.5 641.6V647.7M1443.5 639.2V645.3M1448.5 641.8V644.0M1451.5 640.3V646.4M1454.5 636.5V642.7M1465.5 642.9V650.5M1467.5 643.0V648.1M1492.5 656.1V659.7M1494.5 656.6V663.5M1497.5 650.1V657.8M1500.5 650.7V655.9M1502.5 647.3V655.8M1508.5 647.6V653.7M1510.5 642.5V648.7M1513.5 641.7V648.5M1516.5 639.0V645.5M1524.5 644.1V649.7M1535.5 648.1V655.4M1537.5 642.7V651.7M1540.5 640.9V646.8M1543.5 641.2V646.3M1567.5 655.1V658.5M1570.5 652.1V656.5M1572.5 648.6V654.8M1575.5 646.2V650.9M1578.5 648.3V651.6M1581.5 647.0V653.6M1583.5 645.1V648.2M1586.5 643.8V647.1M1589.5 641.4V645.9M1591.5 639.5V647.1M1594.5 632.6V643.4M1597.5 628.6V635.4M1599.5 628.9V634.4M1605.5 627.1V635.1M1608.5 628.7V636.3M1610.5 626.5V630.7M1626.5 631.5V637.6M1629.5 622.5V633.1M1635.5 627.7V636.4M1637.5 623.4V630.3M1651.5 615.0V635.4" stroke="#26a69a" stroke-width="1.2" fill="none"/>
<path d="M134.5 528.3V562.4M140.5 478.4V515.7M143.5 492.1V526.7M148.5 485.2V506.2M159.5 288.3V358.1M161.5 327.1V367.1M164.5 332.4V379.7M170.5 355.5V423.3M172.5 389.1V440.6M175.5 404.3V452.1M191.5 356.6V423.3M196.5 405.9V447.9M199.5 426.9V484.7M202.5 464.2V539.9M207.5 484.7V516.2M210.5 503.1V526.7M213.5 506.3V534.5M223.5 491.8V507.0M229.5 491.8V516.8M232.5 503.9V523.2M234.5 509.5V526.5M237.5 510.3V531.3M248.5 466.8V510.3M250.5 495.4V528.9M253.5 504.0V521.6M264.5 484.3V508.5M267.5 498.1V514.0M272.5 507.1V522.4M275.5 503.0V519.6M277.5 515.4V523.7M280.5 515.4V523.0M283.5 515.4V532.0M288.5 525.1V542.0M291.5 522.4V539.0M296.5 523.0V533.4M299.5 526.0V541.0M312.5 443.5V468.4M321.5 427.0V452.6M323.5 449.6V466.4M326.5 455.3V473.3M329.5 460.9V485.8M337.5 454.0V477.5M348.5 449.1V460.9M350.5 455.3V514.8M353.5 480.2V503.7M356.5 491.3V510.7M358.5 496.8V514.8M361.5 506.5V522.0M366.5 501.0V522.0M372.5 495.4V522.0M375.5 494.0V528.0M377.5 513.1V548.7M388.5 527.4V538.7M391.5 531.3V543.5M393.5 526.3V541.4M399.5 528.6V542.2M402.5 535.9V542.0M407.5 531.4V552.3M410.5 540.0V551.3M412.5 543.3V552.4M415.5 544.6V567.2M418.5 550.1V568.9M420.5 566.7V592.3M423.5 583.0V603.7M426.5 592.8V615.8M431.5 599.4V613.4M439.5 586.2V598.2M442.5 587.1V601.2M445.5 595.0V602.8M447.5 599.9V610.0M458.5 581.3V586.5M461.5 583.1V591.3M472.5 581.1V591.3M474.5 581.5V592.4M477.5 583.8V597.4M480.5 594.7V603.3M485.5 593.6V599.8M488.5 590.9V599.9M491.5 596.0V600.9M493.5 597.9V606.1M496.5 598.0V610.8M499.5 601.2V614.4M501.5 608.8V624.8M504.5 616.8V630.9M507.5 624.6V638.6M509.5 635.0V646.4M520.5 624.4V631.7M523.5 630.4V641.3M526.5 634.3V642.3M531.5 630.6V633.3M534.5 626.4V633.8M536.5 631.1V636.5M539.5 634.9V643.6M563.5 617.7V629.2M566.5 625.2V633.1M569.5 628.8V638.8M572.5 633.9V638.2M574.5 632.1V640.2M577.5 639.4V643.5M580.5 640.2V643.9M582.5 643.0V647.8M588.5 641.4V648.1M590.5 641.4V645.1M593.5 641.7V647.1M596.5 645.6V648.1M607.5 639.0V642.4M609.5 640.3V642.4M617.5 638.0V643.3M620.5 639.3V646.0M623.5 642.2V646.7M655.5 615.0V625.5M661.5 613.0V622.3M663.5 613.0V634.4M666.5 627.1V639.2M669.5 636.0V641.6M677.5 635.0V639.5M690.5 631.1V640.0M704.5 618.1V624.0M706.5 621.7V626.2M717.5 618.5V624.8M720.5 621.5V628.3M723.5 624.7V631.6M725.5 627.7V634.9M728.5 633.8V638.9M731.5 637.0V642.4M744.5 630.0V633.8M747.5 631.1V636.6M750.5 633.6V640.0M752.5 637.3V644.2M777.5 609.8V623.4M779.5 620.3V633.5M782.5 625.8V635.8M790.5 615.4V623.1M793.5 620.8V628.1M795.5 619.9V628.4M814.5 585.7V600.1M820.5 573.3V590.4M847.5 552.6V575.1M849.5 548.1V587.2M852.5 563.8V586.3M860.5 566.3V573.8M863.5 566.7V581.5M871.5 560.7V574.2M874.5 570.5V601.3M876.5 572.1V599.2M879.5 589.0V612.1M882.5 596.3V610.4M890.5 599.2V611.6M893.5 599.3V609.2M895.5 600.9V608.9M903.5 594.3V606.1M925.5 583.2V607.8M928.5 587.6V606.4M930.5 592.9V607.9M933.5 601.4V621.4M936.5 605.4V618.3M938.5 605.3V617.8M941.5 610.5V616.6M944.5 609.8V615.5M957.5 601.0V615.8M960.5 609.9V617.1M963.5 608.0V615.9M968.5 611.9V619.6M971.5 615.2V622.7M974.5 618.6V623.2M976.5 619.0V624.5M979.5 618.0V624.5M982.5 622.6V632.8M984.5 623.6V635.6M995.5 623.6V635.6M998.5 624.5V651.2M1000.5 627.3V668.7M1003.5 643.0V651.2M1006.5 644.8V653.0M1009.5 647.5V654.9M1011.5 648.5V655.8M1030.5 647.5V651.2M1033.5 649.4V654.0M1054.5 646.5V655.9M1057.5 652.5V661.9M1060.5 656.6V661.7M1065.5 658.0V661.6M1076.5 655.6V666.6M1079.5 664.5V668.7M1081.5 663.1V667.7M1084.5 666.1V670.0M1087.5 666.4V672.2M1090.5 668.5V675.2M1092.5 671.4V676.2M1095.5 674.2V676.3M1106.5 674.2V675.9M1108.5 673.6V675.4M1122.5 672.9V677.6M1125.5 674.0V676.8M1138.5 673.5V675.8M1141.5 674.3V679.0M1143.5 675.2V680.5M1146.5 676.5V679.9M1149.5 678.4V681.7M1152.5 679.7V681.2M1154.5 679.3V682.2M1157.5 681.7V684.4M1160.5 683.7V686.5M1162.5 682.8V684.6M1165.5 684.2V687.2M1168.5 685.1V687.1M1170.5 685.8V688.4M1179.5 683.7V686.6M1181.5 684.8V686.3M1184.5 685.6V687.2M1187.5 685.8V686.9M1189.5 685.3V688.2M1192.5 687.3V690.0M1222.5 678.0V680.1M1224.5 679.7V681.8M1227.5 680.1V681.6M1230.5 679.8V681.5M1235.5 681.0V682.6M1238.5 680.9V682.8M1241.5 681.4V684.6M1243.5 682.9V685.0M1262.5 642.6V656.5M1276.5 629.5V642.6M1278.5 637.8V647.5M1284.5 639.2V646.8M1286.5 639.9V646.8M1295.5 635.0V646.8M1297.5 644.0V647.5M1311.5 638.4V645.4M1313.5 641.8V653.9M1324.5 647.0V651.2M1327.5 645.9V653.9M1330.5 651.4V656.2M1346.5 640.1V646.2M1349.5 643.5V653.6M1351.5 646.4V653.1M1354.5 652.5V656.8M1357.5 653.5V658.9M1359.5 654.0V656.3M1362.5 653.5V657.5M1365.5 654.2V657.9M1367.5 657.1V661.4M1370.5 658.0V662.0M1373.5 658.2V664.4M1376.5 663.2V666.2M1384.5 657.5V662.4M1397.5 658.2V664.8M1416.5 649.9V652.8M1429.5 646.5V652.0M1432.5 646.2V652.6M1435.5 645.0V649.9M1446.5 640.1V645.6M1456.5 640.4V645.9M1459.5 642.0V651.6M1462.5 647.1V650.5M1470.5 642.8V648.6M1473.5 639.8V647.4M1475.5 646.0V652.0M1478.5 646.6V652.9M1481.5 649.7V659.3M1483.5 649.6V658.0M1486.5 654.5V660.2M1489.5 657.3V659.6M1505.5 646.5V653.3M1518.5 640.1V649.1M1521.5 645.4V649.3M1527.5 646.6V649.7M1529.5 648.2V653.8M1532.5 651.3V655.7M1545.5 641.6V648.3M1548.5 640.3V651.6M1551.5 646.4V651.8M1554.5 650.4V654.3M1556.5 651.1V656.8M1559.5 650.8V657.0M1562.5 648.9V654.4M1564.5 651.7V657.0M1602.5 627.8V634.5M1613.5 625.9V631.8M1616.5 625.4V635.6M1618.5 626.6V635.3M1621.5 630.1V634.5M1624.5 633.0V635.3M1632.5 623.4V630.4M1640.5 622.1V630.2M1643.5 627.0V637.2M1645.5 630.2V637.4M1648.5 632.8V635.8" stroke="#ef5350" stroke-width="1.2" fill="none"/>
<path d="M336.8 477.7L339.5 409.3L342.2 406.4L344.9 398.0L347.6 398.0L350.3 398.0L353.0 399.1L355.7 399.1L358.4 399.1L361.1 399.1L363.8 415.1L366.5 434.6L369.2 437.2L371.9 445.1L374.5 448.8L377.2 449.3L379.9 449.3L382.6 449.3L385.3 449.3L388.0 449.3L390.7 449.3L393.4 449.3L396.1 449.3L398.8 465.8L401.5 474.0L404.2 484.5L406.9 484.5L409.6 484.5L412.3 484.5L415.0 484.5L417.7 484.5L420.4 484.5L423.1 484.5L425.8 484.5L428.5 484.5L431.2 484.5L433.9 484.5L436.6 484.5L439.3 484.5L442.0 484.5L444.7 487.9L447.4 491.6L450.1 491.6L452.8 491.6L455.5 491.6L458.2 491.6L460.9 491.6L463.6 491.6L466.3 491.6L469.0 491.6L471.7 491.6L474.4 491.6L477.1 491.6L479.8 491.6L482.5 497.1L485.2 498.0L487.9 509.7L490.6 515.3L493.3 521.4L496.0 521.4L498.7 521.4L501.4 521.4L504.1 521.4L506.8 521.4L509.4 521.4L512.1 521.4L514.8 521.4L517.5 521.4L520.2 521.4L522.9 521.4L525.6 521.4L528.3 532.5L531.0 532.5L533.7 532.5L536.4 532.5L539.1 532.5L541.8 532.5L544.5 532.5L547.2 532.5L549.9 532.5L552.6 532.5L555.3 535.6L558.0 548.0L560.7 553.2L563.4 553.2L566.1 553.2L568.8 557.7L571.5 562.5L574.2 566.3L576.9 570.2L579.6 570.2L582.3 579.7L585.0 580.1L587.7 580.1L590.4 584.4L593.1 585.7L595.8 585.7L598.5 585.7L601.2 585.7L603.9 585.7L606.6 585.7L609.3 585.7L612.0 588.9L614.7 593.2L617.4 594.8L620.1 595.5L622.8 598.3L625.5 606.5L628.2 610.6L630.9 610.6L633.6 610.6L636.3 610.6L639.0 610.6L641.6 610.6L644.3 610.6L647.0 610.6L649.7 611.3L652.4 611.3L655.1 611.5L657.8 611.5L660.5 611.5L663.2 611.5L665.9 612.0L668.6 612.0L671.3 612.0L674.0 613.0L676.7 615.1L679.4 615.3L682.1 616.5L684.8 620.0L687.5 620.0L690.2 620.0L692.9 620.0L695.6 622.6L698.3 623.5L701.0 623.6L703.7 625.2L706.4 629.0L709.1 633.0L711.8 633.5L714.5 633.5L717.2 633.5L719.9 632.5L722.6 632.1L725.3 631.3L728.0 631.1L730.7 631.1L733.4 631.1L736.1 631.1L738.8 631.1L741.5 631.1L744.2 631.1L746.9 631.1L749.6 631.1L752.3 631.1L755.0 631.1L757.7 631.1L760.4 631.1L763.1 631.1L765.8 631.1L768.5 631.1L771.2 631.1L773.9 631.1L776.5 631.1L779.2 631.1L781.9 631.1L784.6 631.1L787.3 631.1L790.0 631.1L792.7 631.1L795.4 631.1L798.1 631.1L800.8 631.1L803.5 631.1L806.2 629.8L808.9 629.8L811.6 629.8L814.3 629.8L817.0 629.8L819.7 629.8L822.4 629.8L825.1 630.0L827.8 630.0L830.5 630.0L833.2 630.0L835.9 629.3L838.6 629.3L841.3 626.7L844.0 626.7L846.7 626.7L849.4 626.7L852.1 626.7L854.8 626.7L857.5 626.7L860.2 626.7L862.9 626.7L865.6 626.7L868.3 626.7L871.0 626.7L873.7 622.9L876.4 621.9L879.1 619.7L881.8 616.3L884.5 610.7L887.2 610.2L889.9 610.2L892.6 610.2L895.3 602.6L898.0 602.6L900.7 600.7L903.4 600.7L906.1 600.7L908.8 600.3L911.4 599.1L914.1 599.1L916.8 597.5L919.5 597.5L922.2 597.5L924.9 597.5L927.6 597.5L930.3 597.5L933.0 597.5L935.7 597.5L938.4 597.5L941.1 597.5L943.8 597.5L946.5 597.5L949.2 597.5L951.9 597.5L954.6 597.5L957.3 597.5L960.0 597.5L962.7 597.5L965.4 594.2L968.1 591.9L970.8 591.9L973.5 591.9L976.2 591.9L978.9 591.9L981.6 591.9L984.3 591.9L987.0 591.9L989.7 590.4L992.4 590.3L995.1 590.3L997.8 590.3L1000.5 590.3L1003.2 590.3L1005.9 590.3L1008.6 584.7L1011.3 584.7L1014.0 584.7L1016.7 584.7L1019.4 584.7L1022.1 584.7L1024.8 584.7L1027.5 584.7L1030.2 584.7L1032.9 584.7L1035.6 584.7L1038.3 585.4L1041.0 585.6L1043.7 586.3L1046.3 586.3L1049.0 590.4L1051.7 591.8L1054.4 591.8L1057.1 595.4L1059.8 595.4L1062.5 595.4L1065.2 603.2L1067.9 611.9L1070.6 611.9L1073.3 611.9L1076.0 614.7L1078.7 619.6L1081.4 620.4L1084.1 621.7L1086.8 621.7L1089.5 621.7L1092.2 621.7L1094.9 621.7L1097.6 621.7L1100.3 621.7L1103.0 621.7L1105.7 621.7L1108.4 621.7L1111.1 621.7L1113.8 621.7L1116.5 621.7L1119.2 621.7L1121.9 621.7L1124.6 621.7L1127.3 626.0L1130.0 626.0L1132.7 628.1L1135.4 630.8L1138.1 634.8L1140.8 634.8L1143.5 634.8L1146.2 634.8L1148.9 634.8L1151.6 635.4L1154.3 636.5L1157.0 638.1L1159.7 638.6L1162.4 638.6L1165.1 643.0L1167.8 643.0L1170.5 644.7L1173.2 645.0L1175.9 646.6L1178.6 648.0L1181.2 648.0L1183.9 648.0L1186.6 648.5L1189.3 648.5L1192.0 648.5L1194.7 649.2L1197.4 649.2L1200.1 651.5L1202.8 652.0L1205.5 653.4L1208.2 661.2L1210.9 662.7L1213.6 662.8L1216.3 663.4L1219.0 663.4L1221.7 663.7L1224.4 664.8L1227.1 665.8L1229.8 665.8L1232.5 666.2L1235.2 666.2L1237.9 666.8L1240.6 666.8L1243.3 666.8L1246.0 666.8L1248.7 666.8L1251.4 666.8L1254.1 666.8L1256.8 666.8L1259.5 668.3L1262.2 671.3L1264.9 672.0L1267.6 672.0L1270.3 672.0L1273.0 672.0L1275.7 672.0L1278.4 672.8L1281.1 672.8L1283.8 676.5L1286.5 676.5L1289.2 678.1L1291.9 678.2L1294.6 679.3L1297.3 680.5L1300.0 680.5L1302.7 680.5L1305.4 680.5L1308.1 680.5L1310.8 680.5L1313.5 680.5L1316.2 680.5L1318.8 680.5L1321.5 680.5L1324.2 679.4L1326.9 669.1L1329.6 666.3L1332.3 666.3L1335.0 662.9L1337.7 660.8L1340.4 657.0L1343.1 657.0L1345.8 657.0L1348.5 657.0L1351.2 657.0L1353.9 657.0L1356.6 657.0L1359.3 657.0L1362.0 657.0L1364.7 657.0L1367.4 657.0L1370.1 657.0L1372.8 657.0L1375.5 657.0L1378.2 657.0L1380.9 657.0L1383.6 657.0L1386.3 657.0L1389.0 657.0L1391.7 657.0L1394.4 657.0L1397.1 657.0L1399.8 656.3L1402.5 656.3L1405.2 656.3L1407.9 656.1L1410.6 656.1L1413.3 654.7L1416.0 654.5L1418.7 654.5L1421.4 654.5L1424.1 654.5L1426.8 654.5L1429.5 654.5L1432.2 654.5L1434.9 654.5L1437.6 654.5L1440.3 654.5L1443.0 654.5L1445.7 654.5L1448.4 654.5L1451.0 654.5L1453.7 654.3L1456.4 654.2L1459.1 651.9L1461.8 651.0L1464.5 651.0L1467.2 645.5L1469.9 645.5L1472.6 645.5L1475.3 645.5L1478.0 645.5L1480.7 648.2L1483.4 648.9L1486.1 648.9L1488.8 648.9L1491.5 648.9L1494.2 648.9L1496.9 648.9L1499.6 648.9L1502.3 648.9L1505.0 648.9L1507.7 648.9L1510.4 648.9L1513.1 651.0L1515.8 652.7L1518.5 652.9L1521.2 651.7L1523.9 651.7L1526.6 651.7L1529.3 651.7L1532.0 651.7L1534.7 651.7L1537.4 651.7L1540.1 651.7L1542.8 651.7L1545.5 651.7L1548.2 651.7L1550.9 651.7L1553.6 651.7L1556.3 651.7L1559.0 651.7L1561.7 651.7L1564.4 651.7L1567.1 651.7L1569.8 651.7L1572.5 651.7L1575.2 651.7L1577.9 651.7L1580.6 651.7L1583.3 651.7L1586.0 650.7L1588.6 650.7L1591.3 650.7L1594.0 650.7L1596.7 650.7L1599.4 650.7L1602.1 650.7L1604.8 650.7L1607.5 650.0L1610.2 650.0L1612.9 650.0L1615.6 650.0L1618.3 650.0L1621.0 650.0L1623.7 650.0L1626.4 650.0L1629.1 650.0L1631.8 650.0L1634.5 650.0L1637.2 650.0L1639.9 650.0L1642.6 650.0L1645.3 650.0L1648.0 650.0L1650.7 650.0L1653.4 650.0L1656.1 650.0L1658.8 650.0L1661.5 648.1L1664.2 646.1L1666.9 646.1L1669.6 645.7L1672.3 645.3L1675.0 645.3L1677.7 645.0L1680.4 644.7L1683.1 644.5L1685.8 644.5L1688.5 644.5L1691.2 644.5L1693.9 644.5L1696.6 643.0L1699.3 643.0L1702.0 640.5L1704.7 640.5L1707.4 640.3L1710.1 640.3L1712.8 640.3L1715.5 640.3L1718.2 636.7" stroke="#ef9a9a" stroke-width="1.3" fill="none" stroke-linejoin="round"/>
<path d="M266.6 449.2L269.3 428.8L272.0 427.3L274.7 423.1L277.4 423.1L280.1 423.1L282.8 431.4L285.5 435.5L288.2 440.7L290.9 450.0L293.6 463.1L296.3 472.8L299.0 475.3L301.7 479.2L304.4 481.0L307.1 481.3L309.8 470.2L312.5 470.2L315.2 470.2L317.9 470.2L320.6 470.2L323.3 470.2L326.0 470.2L328.7 478.4L331.4 480.3L334.1 488.4L336.8 495.5L339.5 499.8L342.2 499.2L344.9 499.2L347.6 499.2L350.3 500.6L353.0 503.7L355.7 507.2L358.4 508.4L361.1 508.4L363.8 508.4L366.5 511.5L369.2 505.6L371.9 503.2L374.5 503.2L377.2 490.0L379.9 490.0L382.6 486.2L385.3 485.1L388.0 484.5L390.7 484.5L393.4 480.2L396.1 476.8L398.8 474.8L401.5 470.4L404.2 470.4L406.9 470.4L409.6 470.4L412.3 476.0L415.0 476.0L417.7 483.2L420.4 483.2L423.1 483.2L425.8 483.2L428.5 485.0L431.2 485.0L433.9 485.0L436.6 485.5L439.3 482.8L442.0 490.8L444.7 503.8L447.4 507.5L450.1 507.5L452.8 507.5L455.5 508.3L458.2 513.8L460.9 513.8L463.6 513.8L466.3 518.6L469.0 518.8L471.7 516.8L474.4 520.0L477.1 520.6L479.8 520.6L482.5 527.1L485.2 529.5L487.9 547.5L490.6 555.7L493.3 561.8L496.0 563.4L498.7 565.6L501.4 567.2L504.1 567.5L506.8 568.9L509.4 573.1L512.1 581.9L514.8 582.9L517.5 582.6L520.2 584.2L522.9 584.1L525.6 583.0L528.3 583.0L531.0 581.4L533.7 581.4L536.4 581.4L539.1 580.4L541.8 580.9L544.5 582.0L547.2 584.3L549.9 585.1L552.6 586.5L555.3 590.7L558.0 593.2L560.7 594.5L563.4 595.5L566.1 596.9L568.8 603.8L571.5 606.9L574.2 610.8L576.9 614.6L579.6 615.9L582.3 616.4L585.0 616.4L587.7 617.2L590.4 619.1L593.1 621.1L595.8 623.0L598.5 623.0L601.2 622.6L603.9 622.6L606.6 623.9L609.3 624.0L612.0 625.1L614.7 626.8L617.4 626.8L620.1 626.8L622.8 626.8L625.5 627.1L628.2 627.0L630.9 625.5L633.6 626.3L636.3 628.2L639.0 629.9L641.6 630.5L644.3 631.3L647.0 631.0L649.7 632.7L652.4 632.7L655.1 634.8L657.8 635.7L660.5 636.5L663.2 636.5L665.9 638.9L668.6 638.8L671.3 638.2L674.0 638.2L676.7 638.2L679.4 638.2L682.1 637.5L684.8 637.5L687.5 637.5L690.2 636.8L692.9 636.8L695.6 636.8L698.3 635.6L701.0 637.4L703.7 638.0L706.4 635.9L709.1 635.9L711.8 635.9L714.5 635.8L717.2 634.1L719.9 629.6L722.6 629.2L725.3 628.4L728.0 628.2L730.7 628.0L733.4 628.6L736.1 628.6L738.8 628.6L741.5 628.6L744.2 628.6L746.9 628.6L749.6 628.6L752.3 628.6L755.0 632.1L757.7 632.7L760.4 632.5L763.1 630.7L765.8 629.1L768.5 628.6L771.2 628.4L773.9 628.4L776.5 628.4L779.2 628.2L781.9 626.9L784.6 626.5L787.3 625.7L790.0 626.1L792.7 626.9L795.4 628.0L798.1 629.1L800.8 630.4L803.5 630.4L806.2 630.4L808.9 631.1L811.6 631.9L814.3 632.7L817.0 632.7L819.7 633.6L822.4 634.3L825.1 635.0L827.8 635.0L830.5 634.6L833.2 633.2L835.9 629.3L838.6 629.3L841.3 626.7L844.0 626.7L846.7 626.7L849.4 625.0L852.1 623.9L854.8 623.9L857.5 623.9L860.2 623.9L862.9 623.9L865.6 624.7L868.3 624.8L871.0 624.4L873.7 619.4L876.4 618.3L879.1 616.1L881.8 612.7L884.5 607.1L887.2 606.5L889.9 606.5L892.6 602.9L895.3 593.7L898.0 591.2L900.7 587.6L903.4 587.6L906.1 587.6L908.8 585.0L911.4 583.8L914.1 583.8L916.8 579.8L919.5 579.0L922.2 578.9L924.9 579.0L927.6 579.0L930.3 579.0L933.0 579.0L935.7 579.0L938.4 575.4L941.1 580.6L943.8 579.3L946.5 581.8L949.2 581.8L951.9 581.9L954.6 581.9L957.3 581.9L960.0 583.3L962.7 585.7L965.4 587.1L968.1 591.3L970.8 591.9L973.5 590.9L976.2 590.0L978.9 589.5L981.6 589.5L984.3 588.6L987.0 589.5L989.7 589.3L992.4 588.2L995.1 588.2L997.8 587.9L1000.5 593.2L1003.2 593.2L1005.9 594.6L1008.6 597.0L1011.3 599.5L1014.0 600.2L1016.7 601.3L1019.4 602.6L1022.1 604.6L1024.8 604.3L1027.5 604.3L1030.2 604.3L1032.9 604.3L1035.6 604.3L1038.3 605.3L1041.0 605.5L1043.7 606.2L1046.3 606.2L1049.0 612.1L1051.7 613.5L1054.4 614.3L1057.1 616.6L1059.8 617.4L1062.5 619.2L1065.2 628.3L1067.9 639.1L1070.6 639.3L1073.3 639.3L1076.0 639.3L1078.7 639.3L1081.4 639.3L1084.1 640.5L1086.8 640.7L1089.5 641.4L1092.2 642.4L1094.9 644.6L1097.6 645.0L1100.3 645.9L1103.0 646.0L1105.7 646.8L1108.4 647.5L1111.1 647.5L1113.8 647.5L1116.5 647.3L1119.2 647.0L1121.9 647.2L1124.6 648.7L1127.3 648.7L1130.0 650.0L1132.7 650.3L1135.4 651.0L1138.1 653.4L1140.8 653.9L1143.5 656.2L1146.2 658.8L1148.9 659.1L1151.6 659.7L1154.3 660.9L1157.0 662.4L1159.7 662.8L1162.4 663.3L1165.1 664.2L1167.8 666.1L1170.5 666.1L1173.2 666.8L1175.9 666.9L1178.6 667.4L1181.2 668.2L1183.9 668.1L1186.6 668.1L1189.3 668.3L1192.0 669.8L1194.7 671.0L1197.4 671.0L1200.1 671.0L1202.8 671.0L1205.5 671.0L1208.2 671.4L1210.9 672.4L1213.6 674.4L1216.3 675.0L1219.0 675.8L1221.7 676.1L1224.4 677.7L1227.1 679.4L1229.8 679.6L1232.5 680.2L1235.2 680.5L1237.9 681.5L1240.6 681.7L1243.3 681.7L1246.0 682.3L1248.7 682.6L1251.4 682.6L1254.1 682.9L1256.8 683.3L1259.5 684.3L1262.2 684.3L1264.9 684.3L1267.6 684.3L1270.3 684.6L1273.0 684.5L1275.7 684.0L1278.4 683.6L1281.1 683.8L1283.8 683.9L1286.5 684.0L1289.2 683.7L1291.9 683.6L1294.6 683.6L1297.3 682.9L1300.0 682.5L1302.7 682.2L1305.4 682.2L1308.1 682.7L1310.8 682.8L1313.5 682.8L1316.2 682.8L1318.8 682.3L1321.5 679.8L1324.2 678.2L1326.9 667.9L1329.6 664.7L1332.3 664.7L1335.0 661.3L1337.7 659.0L1340.4 655.1L1343.1 653.3L1345.8 652.8L1348.5 652.8L1351.2 648.3L1353.9 648.3L1356.6 648.1L1359.3 645.1L1362.0 645.1L1364.7 646.5L1367.4 648.7L1370.1 648.7L1372.8 647.7L1375.5 647.7L1378.2 647.7L1380.9 648.4L1383.6 649.0L1386.3 648.9L1389.0 647.8L1391.7 647.3L1394.4 647.3L1397.1 643.9L1399.8 644.7L1402.5 645.4L1405.2 645.6L1407.9 645.3L1410.6 645.2L1413.3 645.6L1416.0 645.6L1418.7 645.6L1421.4 645.8L1424.1 646.9L1426.8 646.9L1429.5 646.9L1432.2 646.9L1434.9 648.5L1437.6 649.6L1440.3 651.5L1443.0 655.0L1445.7 656.4L1448.4 656.6L1451.0 656.6L1453.7 656.7L1456.4 657.4L1459.1 657.6L1461.8 656.5L1464.5 656.5L1467.2 656.5L1469.9 656.0L1472.6 656.0L1475.3 655.9L1478.0 655.0L1480.7 655.3L1483.4 656.2L1486.1 656.9L1488.8 656.9L1491.5 653.2L1494.2 653.2L1496.9 652.7L1499.6 651.9L1502.3 651.9L1505.0 651.2L1507.7 651.0L1510.4 649.5L1513.1 649.5L1515.8 649.0L1518.5 649.0L1521.2 647.6L1523.9 647.3L1526.6 647.4L1529.3 647.4L1532.0 647.4L1534.7 647.4L1537.4 646.6L1540.1 646.6L1542.8 646.2L1545.5 646.4L1548.2 648.7L1550.9 648.7L1553.6 649.2L1556.3 649.2L1559.0 649.2L1561.7 650.8L1564.4 652.4L1567.1 652.6L1569.8 652.7L1572.5 652.5L1575.2 652.5L1577.9 651.5L1580.6 651.3L1583.3 650.6L1586.0 649.2L1588.6 648.7L1591.3 649.3L1594.0 648.8L1596.7 648.8L1599.4 649.3L1602.1 649.3L1604.8 649.3L1607.5 649.6L1610.2 649.8L1612.9 649.8L1615.6 649.6L1618.3 649.6L1621.0 649.6L1623.7 649.9L1626.4 649.9L1629.1 649.9L1631.8 648.5L1634.5 649.1L1637.2 649.1L1639.9 650.6L1642.6 650.5L1645.3 650.5L1648.0 650.5L1650.7 650.3L1653.4 650.2L1656.1 649.7L1658.8 648.5L1661.5 644.6L1664.2 642.3L1666.9 642.3L1669.6 641.9L1672.3 640.3L1675.0 640.0L1677.7 639.7L1680.4 639.4L1683.1 638.2L1685.8 636.4L1688.5 636.4L1691.2 636.4L1693.9 636.7L1696.6 635.3L1699.3 635.3L1702.0 635.3L1704.7 634.8L1707.4 634.2L1710.1 633.8L1712.8 633.8L1715.5 633.8L1718.2 628.9" stroke="#a5d6a7" stroke-width="1.3" fill="none" stroke-linejoin="round"/>
<path d="M199.2 477.7L201.9 409.3L204.6 406.4L207.3 398.0L210.0 398.0L212.7 398.0L215.4 398.0L218.1 398.0L220.8 398.0L223.5 398.0L226.2 414.1L228.9 433.5L231.6 436.1L234.3 444.0L236.9 447.7L239.6 448.2L242.3 448.2L245.0 448.2L247.7 448.2L250.4 448.2L253.1 448.2L255.8 448.2L258.5 448.2L261.2 464.7L263.9 472.9L266.6 483.4L269.3 493.2L272.0 493.0L274.7 493.0L277.4 493.0L280.1 493.0L282.8 493.0L285.5 494.3L288.2 494.3L290.9 494.3L293.6 494.3L296.3 494.3L299.0 494.3L301.7 494.3L304.4 494.3L307.1 494.3L309.8 490.0L312.5 490.0L315.2 486.2L317.9 485.1L320.6 484.5L323.3 484.5L326.0 484.5L328.7 484.5L331.4 484.5L334.1 484.5L336.8 484.5L339.5 484.5L342.2 484.5L344.9 484.5L347.6 484.5L350.3 484.5L353.0 484.5L355.7 484.5L358.4 484.5L361.1 484.5L363.8 484.5L366.5 484.5L369.2 484.5L371.9 476.0L374.5 477.5L377.2 487.9L379.9 491.6L382.6 491.6L385.3 491.6L388.0 491.6L390.7 502.6L393.4 502.6L396.1 502.6L398.8 502.6L401.5 502.6L404.2 502.6L406.9 502.6L409.6 502.6L412.3 502.6L415.0 508.2L417.7 512.1L420.4 536.3L423.1 547.1L425.8 553.2L428.5 553.2L431.2 553.2L433.9 554.9L436.6 554.9L439.3 554.9L442.0 554.9L444.7 564.5L447.4 564.8L450.1 564.8L452.8 569.2L455.5 570.4L458.2 570.4L460.9 570.4L463.6 570.4L466.3 570.4L469.0 570.4L471.7 570.4L474.4 573.6L477.1 577.9L479.8 579.6L482.5 580.2L485.2 583.0L487.9 591.3L490.6 595.3L493.3 595.3L496.0 594.8L498.7 594.6L501.4 599.8L504.1 602.9L506.8 606.7L509.4 610.6L512.1 610.6L514.8 610.6L517.5 610.6L520.2 610.6L522.9 610.6L525.6 610.6L528.3 610.6L531.0 610.6L533.7 610.6L536.4 611.6L539.1 613.7L541.8 614.0L544.5 615.1L547.2 618.7L549.9 618.7L552.6 618.7L555.3 618.7L558.0 621.2L560.7 622.1L563.4 622.2L566.1 623.8L568.8 627.6L571.5 631.6L574.2 632.1L576.9 632.1L579.6 631.3L582.3 632.7L585.0 632.7L587.7 632.9L590.4 632.9L593.1 632.9L595.8 632.9L598.5 633.5L601.2 633.5L603.9 633.5L606.6 633.5L609.3 633.5L612.0 633.5L614.7 633.5L617.4 633.5L620.1 633.5L622.8 633.5L625.5 633.5L628.2 633.5L630.9 633.5L633.6 637.2L636.3 638.6L639.0 636.5L641.6 636.5L644.3 636.5L647.0 636.5L649.7 635.4L652.4 632.5L655.1 632.1L657.8 631.3L660.5 631.1L663.2 631.1L665.9 631.1L668.6 629.8L671.3 629.8L674.0 629.8L676.7 629.8L679.4 629.8L682.1 629.8L684.8 629.8L687.5 629.8L690.2 629.8L692.9 629.7L695.6 628.5L698.3 627.3L701.0 627.3L703.7 627.3L706.4 627.3L709.1 627.3L711.8 627.3L714.5 627.3L717.2 627.3L719.9 627.3L722.6 627.3L725.3 627.3L728.0 627.3L730.7 627.7L733.4 630.2L736.1 630.2L738.8 630.2L741.5 630.2L744.2 630.2L746.9 630.2L749.6 630.2L752.3 631.1L755.0 631.8L757.7 632.5L760.4 632.5L763.1 632.5L765.8 632.5L768.5 629.3L771.2 629.3L773.9 626.7L776.5 626.7L779.2 626.7L781.9 626.7L784.6 626.7L787.3 626.7L790.0 626.7L792.7 626.7L795.4 626.7L798.1 626.7L800.8 626.7L803.5 626.7L806.2 622.9L808.9 621.9L811.6 619.7L814.3 616.3L817.0 610.7L819.7 610.2L822.4 610.2L825.1 610.2L827.8 599.3L830.5 597.0L833.2 595.1L835.9 595.1L838.6 595.1L841.3 594.7L844.0 593.5L846.7 593.5L849.4 591.9L852.1 590.4L854.8 590.3L857.5 590.3L860.2 590.3L862.9 590.3L865.6 590.3L868.3 590.3L871.0 583.0L873.7 583.0L876.4 580.4L879.1 580.1L881.8 580.1L884.5 580.1L887.2 580.1L889.9 580.1L892.6 580.1L895.3 580.1L898.0 581.1L900.7 581.1L903.4 581.1L906.1 581.1L908.8 581.1L911.4 581.1L914.1 581.1L916.8 581.1L919.5 584.6L922.2 584.6L924.9 584.6L927.6 584.6L930.3 584.6L933.0 588.3L935.7 588.3L938.4 591.1L941.1 596.0L943.8 596.8L946.5 598.1L949.2 598.1L951.9 598.1L954.6 598.1L957.3 598.1L960.0 598.1L962.7 598.1L965.4 598.1L968.1 598.1L970.8 598.7L973.5 598.9L976.2 599.6L978.9 599.6L981.6 603.7L984.3 605.1L987.0 605.1L989.7 609.4L992.4 609.4L995.1 611.6L997.8 622.1L1000.5 634.8L1003.2 634.8L1005.9 634.8L1008.6 634.8L1011.3 634.8L1014.0 634.8L1016.7 634.8L1019.4 634.8L1022.1 634.8L1024.8 634.8L1027.5 638.3L1030.2 638.3L1032.9 640.1L1035.6 640.3L1038.3 642.0L1041.0 643.4L1043.7 643.4L1046.3 643.4L1049.0 643.9L1051.7 643.9L1054.4 643.9L1057.1 643.9L1059.8 643.9L1062.5 646.2L1065.2 646.6L1067.9 648.0L1070.6 652.9L1073.3 653.8L1076.0 655.9L1078.7 657.0L1081.4 657.0L1084.1 657.6L1086.8 658.7L1089.5 660.2L1092.2 660.7L1094.9 660.7L1097.6 661.6L1100.3 661.6L1103.0 661.6L1105.7 661.6L1108.4 661.6L1111.1 661.6L1113.8 661.6L1116.5 661.6L1119.2 661.6L1121.9 662.3L1124.6 665.3L1127.3 666.7L1130.0 666.7L1132.7 666.7L1135.4 666.7L1138.1 666.7L1140.8 667.5L1143.5 668.1L1146.2 671.8L1148.9 672.4L1151.6 673.9L1154.3 674.3L1157.0 676.5L1159.7 678.7L1162.4 678.7L1165.1 679.1L1167.8 679.1L1170.5 679.7L1173.2 679.7L1175.9 679.7L1178.6 679.7L1181.2 679.7L1183.9 679.7L1186.6 679.7L1189.3 680.6L1192.0 681.8L1194.7 681.8L1197.4 681.8L1200.1 681.8L1202.8 681.8L1205.5 681.8L1208.2 682.2L1210.9 682.6L1213.6 683.3L1216.3 684.2L1219.0 684.3L1221.7 684.0L1224.4 684.0L1227.1 684.0L1229.8 684.0L1232.5 684.0L1235.2 684.0L1237.9 684.0L1240.6 684.0L1243.3 684.0L1246.0 684.0L1248.7 684.0L1251.4 683.5L1254.1 681.0L1256.8 679.4L1259.5 669.1L1262.2 665.6L1264.9 665.6L1267.6 662.2L1270.3 659.9L1273.0 656.1L1275.7 654.7L1278.4 654.5L1281.1 654.5L1283.8 654.5L1286.5 654.5L1289.2 654.5L1291.9 654.5L1294.6 654.5L1297.3 654.5L1300.0 654.5L1302.7 654.5L1305.4 654.5L1308.1 654.5L1310.8 654.5L1313.5 654.5L1316.2 654.3L1318.8 654.2L1321.5 651.9L1324.2 651.0L1326.9 651.0L1329.6 642.0L1332.3 642.0L1335.0 641.6L1337.7 640.2L1340.4 640.2L1343.1 643.0L1345.8 643.7L1348.5 643.7L1351.2 643.7L1353.9 643.9L1356.6 644.9L1359.3 644.9L1362.0 644.9L1364.7 644.9L1367.4 646.2L1370.1 646.4L1372.8 647.7L1375.5 650.6L1378.2 652.7L1380.9 652.9L1383.6 652.9L1386.3 652.9L1389.0 652.9L1391.7 652.9L1394.4 652.9L1397.1 652.9L1399.8 652.9L1402.5 652.9L1405.2 652.9L1407.9 652.9L1410.6 652.9L1413.3 653.6L1416.0 655.2L1418.7 656.7L1421.4 657.4L1424.1 654.5L1426.8 654.5L1429.5 654.5L1432.2 654.5L1434.9 654.5L1437.6 654.5L1440.3 654.3L1443.0 653.1L1445.7 653.1L1448.4 652.1L1451.0 652.1L1453.7 650.7L1456.4 650.7L1459.1 650.7L1461.8 650.7L1464.5 650.7L1467.2 650.7L1469.9 649.1L1472.6 649.1L1475.3 648.2L1478.0 646.5L1480.7 647.9L1483.4 647.9L1486.1 648.3L1488.8 648.3L1491.5 648.3L1494.2 650.0L1496.9 650.0L1499.6 650.0L1502.3 650.0L1505.0 650.0L1507.7 650.0L1510.4 650.0L1513.1 650.0L1515.8 650.0L1518.5 650.0L1521.2 650.0L1523.9 651.3L1526.6 651.3L1529.3 651.3L1532.0 651.3L1534.7 651.3L1537.4 651.3L1540.1 651.3L1542.8 651.3L1545.5 651.3L1548.2 651.3L1550.9 651.3L1553.6 651.3L1556.3 651.3L1559.0 651.3L1561.7 651.3L1564.4 648.4L1567.1 648.7L1569.8 648.7L1572.5 648.7L1575.2 648.7L1577.9 648.7L1580.6 648.7L1583.3 648.7L1586.0 649.3L1588.6 649.4L1591.3 649.0L1594.0 645.5L1596.7 643.5L1599.4 643.5L1602.1 643.1L1604.8 642.8L1607.5 642.8L1610.2 642.5L1612.9 642.2L1615.6 641.9L1618.3 641.9L1621.0 641.9L1623.7 641.9L1626.4 641.9L1629.1 640.5L1631.8 640.5L1634.5 640.5L1637.2 639.5L1639.9 638.5L1642.6 637.8L1645.3 637.8L1648.0 637.8L1650.7 631.6" stroke="#c62828" stroke-width="1.3" fill="none" stroke-linejoin="round"/>
<path d="M153.3 550.0L156.0 409.3L158.7 406.4L161.4 391.5L164.1 391.5L166.8 386.8L169.5 381.2L172.2 379.7L174.9 367.8L177.6 357.9L180.3 373.9L183.0 393.3L185.7 395.9L188.4 403.8L191.1 407.5L193.8 408.0L196.5 408.0L199.2 420.6L201.9 448.2L204.6 448.2L207.3 448.2L210.0 448.2L212.7 448.2L215.4 464.7L218.1 472.9L220.8 483.4L223.5 502.0L226.2 512.1L228.9 512.1L231.6 514.4L234.3 514.4L236.9 514.4L239.6 514.4L242.3 492.2L245.0 492.2L247.7 492.2L250.4 492.2L253.1 492.2L255.8 492.2L258.5 492.2L261.2 492.2L263.9 487.8L266.6 493.4L269.3 497.9L272.0 506.6L274.7 505.4L277.4 505.4L280.1 505.4L282.8 508.1L285.5 513.1L288.2 520.1L290.9 522.5L293.6 522.5L296.3 522.5L299.0 528.7L301.7 516.9L304.4 512.1L307.1 512.1L309.8 490.0L312.5 490.0L315.2 486.2L317.9 485.1L320.6 484.5L323.3 484.5L326.0 476.0L328.7 469.2L331.4 465.0L334.1 456.4L336.8 456.4L339.5 456.4L342.2 456.4L344.9 467.4L347.6 467.4L350.3 481.9L353.0 481.9L355.7 481.9L358.4 481.9L361.1 485.6L363.8 485.6L366.5 485.6L369.2 486.6L371.9 489.6L374.5 504.1L377.2 519.7L379.9 523.4L382.6 523.4L385.3 523.4L388.0 525.1L390.7 525.1L393.4 525.1L396.1 525.1L398.8 534.6L401.5 535.0L404.2 531.1L406.9 537.4L409.6 538.7L412.3 538.7L415.0 546.1L417.7 546.9L420.4 558.7L423.1 564.3L425.8 570.4L428.5 573.6L431.2 577.9L433.9 579.6L436.6 580.2L439.3 583.0L442.0 591.3L444.7 599.4L447.4 601.0L450.1 600.4L452.8 599.2L455.5 597.7L458.2 595.6L460.9 595.6L463.6 592.5L466.3 592.4L469.0 592.4L471.7 590.4L474.4 588.1L477.1 586.1L479.8 589.1L482.5 590.0L485.2 590.0L487.9 590.0L490.6 591.0L493.3 593.6L496.0 596.2L498.7 599.1L501.4 607.8L504.1 610.9L506.8 614.8L509.4 618.7L512.1 621.2L514.8 622.1L517.5 622.2L520.2 623.8L522.9 627.6L525.6 631.6L528.3 635.4L531.0 635.4L533.7 634.6L536.4 633.6L539.1 634.0L541.8 634.0L544.5 635.0L547.2 635.0L549.9 635.0L552.6 635.0L555.3 635.0L558.0 633.0L560.7 631.9L563.4 628.8L566.1 628.8L568.8 628.8L571.5 628.3L574.2 629.0L576.9 630.6L579.6 630.8L582.3 632.7L585.0 632.7L587.7 636.7L590.4 638.5L593.1 640.1L595.8 640.1L598.5 644.3L601.2 644.2L603.9 642.9L606.6 642.9L609.3 642.9L612.0 642.9L614.7 641.5L617.4 641.5L620.1 641.5L622.8 640.2L625.5 640.2L628.2 640.2L630.9 637.7L633.6 637.7L636.3 637.3L639.0 635.3L641.6 635.3L644.3 635.3L647.0 635.2L649.7 632.8L652.4 626.7L655.1 626.3L657.8 625.5L660.5 625.3L663.2 624.9L665.9 626.1L668.6 627.3L671.3 627.3L674.0 627.3L676.7 627.3L679.4 627.3L682.1 627.3L684.8 627.3L687.5 634.4L690.2 635.6L692.9 635.2L695.6 632.9L698.3 630.8L701.0 630.0L703.7 629.5L706.4 629.5L709.1 629.5L711.8 629.0L714.5 626.5L717.2 625.8L719.9 624.2L722.6 624.8L725.3 626.5L728.0 628.7L730.7 630.5L733.4 630.5L736.1 630.5L738.8 630.5L741.5 632.0L744.2 633.5L746.9 635.1L749.6 635.2L752.3 636.1L755.0 636.8L757.7 637.5L760.4 637.5L763.1 636.7L765.8 634.0L768.5 629.3L771.2 629.3L773.9 626.7L776.5 626.7L779.2 626.7L781.9 623.4L784.6 621.1L787.3 621.1L790.0 621.1L792.7 621.1L795.4 621.1L798.1 622.8L800.8 622.8L803.5 622.2L806.2 615.8L808.9 614.7L811.6 612.5L814.3 609.1L817.0 603.5L819.7 602.9L822.4 602.9L825.1 595.7L827.8 588.1L830.5 585.5L833.2 580.2L835.9 580.2L838.6 580.2L841.3 575.3L844.0 574.1L846.7 574.1L849.4 567.6L852.1 567.6L854.8 567.6L857.5 567.7L860.2 567.7L862.9 567.7L865.6 567.7L868.3 567.7L871.0 567.7L873.7 578.2L876.4 578.2L879.1 583.6L881.8 583.6L884.5 583.6L887.2 583.6L889.9 583.6L892.6 586.4L895.3 591.3L898.0 593.1L900.7 601.5L903.4 602.7L906.1 600.7L908.8 598.8L911.4 598.0L914.1 598.0L916.8 596.1L919.5 594.4L922.2 594.0L924.9 591.8L927.6 591.8L930.3 591.3L933.0 598.1L935.7 598.1L938.4 598.1L941.1 598.1L943.8 602.3L946.5 602.3L949.2 604.5L951.9 607.2L954.6 611.2L957.3 610.5L960.0 610.5L962.7 610.5L965.4 610.5L968.1 610.5L970.8 611.8L973.5 612.1L976.2 612.7L978.9 612.7L981.6 620.4L984.3 621.8L987.0 623.5L989.7 623.8L992.4 625.4L995.1 626.8L997.8 634.6L1000.5 643.4L1003.2 643.9L1005.9 643.9L1008.6 643.9L1011.3 643.9L1014.0 643.9L1016.7 646.2L1019.4 646.6L1022.1 648.0L1024.8 649.9L1027.5 650.8L1030.2 651.7L1032.9 651.7L1035.6 651.7L1038.3 651.7L1041.0 651.7L1043.7 651.7L1046.3 651.7L1049.0 650.8L1051.7 650.1L1054.4 650.5L1057.1 653.5L1059.8 653.5L1062.5 653.9L1065.2 653.9L1067.9 654.0L1070.6 654.0L1073.3 654.0L1076.0 656.6L1078.7 660.6L1081.4 661.3L1084.1 661.9L1086.8 663.0L1089.5 664.5L1092.2 665.0L1094.9 665.9L1097.6 666.8L1100.3 670.5L1103.0 670.5L1105.7 672.1L1108.4 672.2L1111.1 673.3L1113.8 674.7L1116.5 674.7L1119.2 674.5L1121.9 674.3L1124.6 674.3L1127.3 675.2L1130.0 675.2L1132.7 675.2L1135.4 675.2L1138.1 675.2L1140.8 675.2L1143.5 676.7L1146.2 677.0L1148.9 677.6L1151.6 677.6L1154.3 677.9L1157.0 679.0L1159.7 680.0L1162.4 680.4L1165.1 681.2L1167.8 681.9L1170.5 683.4L1173.2 683.8L1175.9 683.8L1178.6 685.0L1181.2 685.6L1183.9 685.6L1186.6 686.0L1189.3 686.0L1192.0 686.9L1194.7 686.9L1197.4 686.9L1200.1 686.9L1202.8 687.4L1205.5 687.2L1208.2 685.8L1210.9 684.7L1213.6 684.4L1216.3 683.6L1219.0 683.6L1221.7 683.3L1224.4 683.1L1227.1 683.1L1229.8 681.7L1232.5 681.0L1235.2 680.4L1237.9 680.4L1240.6 681.3L1243.3 681.5L1246.0 681.7L1248.7 681.7L1251.4 681.0L1254.1 678.6L1256.8 676.9L1259.5 666.6L1262.2 663.8L1264.9 663.8L1267.6 660.3L1270.3 658.1L1273.0 654.2L1275.7 651.9L1278.4 651.0L1281.1 651.0L1283.8 642.0L1286.5 642.0L1289.2 641.6L1291.9 635.8L1294.6 635.8L1297.3 638.5L1300.0 643.0L1302.7 643.0L1305.4 640.9L1308.1 640.9L1310.8 640.9L1313.5 642.4L1316.2 643.7L1318.8 643.7L1321.5 643.7L1324.2 643.7L1326.9 643.7L1329.6 645.7L1332.3 647.4L1335.0 649.1L1337.7 651.0L1340.4 650.3L1343.1 647.5L1345.8 647.5L1348.5 647.5L1351.2 647.5L1353.9 647.8L1356.6 648.8L1359.3 648.8L1362.0 648.8L1364.7 648.8L1367.4 650.8L1370.1 652.7L1372.8 655.4L1375.5 659.3L1378.2 660.2L1380.9 660.2L1383.6 660.2L1386.3 660.6L1389.0 662.0L1391.7 662.3L1394.4 660.2L1397.1 660.2L1399.8 660.2L1402.5 659.1L1405.2 659.1L1407.9 659.0L1410.6 657.1L1413.3 657.1L1416.0 657.1L1418.7 657.1L1421.4 656.4L1424.1 651.9L1426.8 651.9L1429.5 650.9L1432.2 649.3L1434.9 649.3L1437.6 647.8L1440.3 647.7L1443.0 645.9L1445.7 645.9L1448.4 645.9L1451.0 645.9L1453.7 644.6L1456.4 643.8L1459.1 644.0L1461.8 644.0L1464.5 644.0L1467.2 644.0L1469.9 644.0L1472.6 644.0L1475.3 644.2L1478.0 646.3L1480.7 649.6L1483.4 649.6L1486.1 650.0L1488.8 650.0L1491.5 650.0L1494.2 651.7L1496.9 654.8L1499.6 655.1L1502.3 655.4L1505.0 655.0L1507.7 655.0L1510.4 653.0L1513.1 652.6L1515.8 651.3L1518.5 648.4L1521.2 647.4L1523.9 647.4L1526.6 646.4L1529.3 646.4L1532.0 647.3L1534.7 647.3L1537.4 647.3L1540.1 647.9L1542.8 648.3L1545.5 648.3L1548.2 648.0L1550.9 648.0L1553.6 648.0L1556.3 648.5L1559.0 648.6L1561.7 648.6L1564.4 648.7L1567.1 649.4L1569.8 649.4L1572.5 652.4L1575.2 652.4L1577.9 652.4L1580.6 652.4L1583.3 651.8L1586.0 651.2L1588.6 649.9L1591.3 648.0L1594.0 643.7L1596.7 641.1L1599.4 641.1L1602.1 640.7L1604.8 637.7L1607.5 637.1L1610.2 636.8L1612.9 636.5L1615.6 634.4L1618.3 630.8L1621.0 630.8L1623.7 630.8L1626.4 631.5L1629.1 630.1L1631.8 630.1L1634.5 630.1L1637.2 630.1L1639.9 629.9L1642.6 629.9L1645.3 629.9L1648.0 629.9L1650.7 626.2" stroke="#2962ff" stroke-width="1.3" fill="none" stroke-linejoin="round"/>
<path d="M64.3 546.7L67.0 551.9L69.7 489.4L72.4 508.3L75.1 515.2L77.8 486.8L80.5 500.5L83.2 477.4L85.9 416.4L88.6 294.1L91.3 335.0L94.0 357.1L96.7 372.8L99.4 367.6L102.0 413.3L104.7 430.1L107.4 443.2L110.1 435.9L112.8 429.0L115.5 424.8L118.2 404.9L120.9 384.9L123.6 414.9L126.3 409.1L129.0 429.6L131.7 466.3L134.4 494.7L137.1 489.4L139.8 510.4L142.5 517.3L145.2 522.3L147.9 521.4L150.6 516.8L153.3 495.3L156.0 499.2L158.7 497.5L161.4 507.5L164.1 514.3L166.8 520.8L169.5 529.5L172.2 502.2L174.9 479.8L177.6 475.1L180.3 495.4L183.0 508.1L185.7 510.0L188.4 502.7L191.1 499.6L193.8 496.5L196.5 503.0L199.2 512.4L201.9 511.6L204.6 513.4L207.3 519.5L210.0 520.4L212.7 521.8L215.4 529.8L218.1 528.6L220.8 530.0L223.5 538.0L226.2 530.0L228.9 530.8L231.6 537.8L234.3 498.9L236.9 492.5L239.6 482.7L242.3 448.3L245.0 453.9L247.7 449.4L250.4 443.5L253.1 449.6L255.8 458.7L258.5 468.8L261.2 469.7L263.9 464.4L266.6 462.7L269.3 470.8L272.0 465.6L274.7 459.6L277.4 455.4L280.1 458.2L282.8 482.0L285.5 494.4L288.2 502.7L290.9 511.3L293.6 513.4L296.3 504.7L299.0 512.8L301.7 503.0L304.4 504.3L307.1 518.4L309.8 546.4L312.5 535.0L315.2 531.4L317.9 529.1L320.6 532.8L323.3 537.8L326.0 540.1L328.7 539.1L331.4 539.5L334.1 540.1L336.8 538.1L339.5 545.0L342.2 549.9L344.9 550.7L347.6 557.8L350.3 568.5L353.0 583.6L355.7 600.3L358.4 614.0L361.1 606.2L363.8 609.9L366.5 602.7L369.2 593.9L371.9 594.0L374.5 600.7L377.2 602.0L379.9 602.3L382.6 599.1L385.3 588.1L388.0 585.4L390.7 586.1L393.4 587.7L396.1 583.2L398.8 581.8L401.5 581.2L404.2 582.9L406.9 586.2L409.6 596.8L412.3 601.1L415.0 596.6L417.7 597.0L420.4 598.2L423.1 599.2L425.8 602.6L428.5 606.4L431.2 612.7L433.9 619.9L436.6 627.9L439.3 637.1L442.0 644.5L444.7 640.5L447.4 635.4L450.1 629.6L452.8 631.4L455.5 635.4L458.2 640.9L460.9 632.3L463.6 632.5L466.3 633.1L469.0 635.7L471.7 638.8L474.4 638.4L477.1 637.8L479.8 637.1L482.5 635.7L485.2 633.7L487.9 629.5L490.6 623.6L493.3 620.3L496.0 625.9L498.7 631.7L501.4 636.1L504.1 638.1L506.8 640.0L509.4 641.8L512.1 643.4L514.8 645.1L517.5 643.0L520.2 643.7L522.9 644.9L525.6 645.7L528.3 646.1L531.0 643.7L533.7 641.3L536.4 640.9L539.1 642.1L541.8 642.2L544.5 639.0L547.2 638.4L549.9 640.4L552.6 642.5L555.3 644.8L558.0 641.4L560.7 637.4L563.4 634.8L566.1 632.4L568.8 631.4L571.5 630.7L574.2 629.7L576.9 628.7L579.6 625.6L582.3 621.6L585.0 618.1L587.7 618.6L590.4 618.2L593.1 621.1L595.8 633.4L598.5 636.8L601.2 639.0L603.9 636.7L606.6 635.8L609.3 636.6L612.0 635.2L614.7 633.6L617.4 633.0L620.1 632.7L622.8 633.0L625.5 632.4L628.2 628.7L630.9 623.4L633.6 619.5L636.3 622.6L639.0 625.4L641.6 625.0L644.3 622.3L647.0 619.0L649.7 623.1L652.4 626.9L655.1 630.4L657.8 634.5L660.5 637.5L663.2 639.3L665.9 636.8L668.6 633.7L671.3 632.1L674.0 630.7L676.7 633.1L679.4 636.2L682.1 639.4L684.8 643.9L687.5 643.9L690.2 638.6L692.9 633.0L695.6 628.8L698.3 624.8L701.0 616.5L703.7 614.2L706.4 612.9L709.1 620.7L711.8 627.4L714.5 630.8L717.2 625.9L719.9 622.6L722.6 622.9L725.3 624.7L728.0 626.2L730.7 623.4L733.4 610.6L736.1 609.8L738.8 602.5L741.5 597.0L744.2 593.8L746.9 596.5L749.6 578.4L752.3 584.6L755.0 583.8L757.7 578.7L760.4 575.1L763.1 572.5L765.8 570.2L768.5 569.3L771.2 565.1L773.9 558.6L776.5 555.2L779.2 557.8L781.9 577.8L784.6 580.4L787.3 573.3L790.0 569.2L792.7 570.8L795.4 572.1L798.1 567.3L800.8 565.0L803.5 572.7L806.2 585.2L808.9 593.9L811.6 600.0L814.3 604.8L817.0 602.0L819.7 599.6L822.4 603.9L825.1 608.3L827.8 608.4L830.5 604.1L833.2 603.1L835.9 605.7L838.6 600.9L841.3 596.2L844.0 592.2L846.7 588.4L849.4 585.6L852.1 585.6L854.8 585.6L857.5 591.4L860.2 599.0L862.9 605.7L865.6 609.2L868.3 609.6L871.0 611.1L873.7 613.4L876.4 615.1L879.1 614.2L881.8 610.5L884.5 604.3L887.2 601.4L889.9 611.1L892.6 613.9L895.3 615.1L898.0 614.8L900.7 617.0L903.4 619.4L906.1 621.2L908.8 622.3L911.4 624.4L914.1 630.0L916.8 634.0L919.5 629.9L922.2 626.8L924.9 625.2L927.6 634.6L930.3 641.8L933.0 644.0L935.7 645.4L938.4 649.8L941.1 651.6L943.8 653.3L946.5 652.8L949.2 652.1L951.9 650.8L954.6 649.4L957.3 649.2L960.0 649.2L962.7 650.3L965.4 651.6L968.1 651.5L970.8 650.8L973.5 650.6L976.2 650.6L978.9 650.2L981.6 649.5L984.3 649.1L987.0 653.0L989.7 660.2L992.4 660.2L995.1 660.2L997.8 660.6L1000.5 660.4L1003.2 657.7L1005.9 656.6L1008.6 665.2L1011.3 665.9L1014.0 666.7L1016.7 667.7L1019.4 669.3L1022.1 672.6L1024.8 675.8L1027.5 676.2L1030.2 675.4L1032.9 675.0L1035.6 674.7L1038.3 675.1L1041.0 675.4L1043.7 675.0L1046.3 674.7L1049.0 674.4L1051.7 674.0L1054.4 675.3L1057.1 676.7L1059.8 676.2L1062.5 675.5L1065.2 674.8L1067.9 674.1L1070.6 674.7L1073.3 675.9L1076.0 677.9L1078.7 679.6L1081.4 680.2L1084.1 680.7L1086.8 682.1L1089.5 683.7L1092.2 684.0L1094.9 684.3L1097.6 685.1L1100.3 686.4L1103.0 686.6L1105.7 685.6L1108.4 685.3L1111.1 685.6L1113.8 685.9L1116.5 686.3L1119.2 686.7L1121.9 687.3L1124.6 687.8L1127.3 687.8L1130.0 687.6L1132.7 687.0L1135.4 686.2L1138.1 684.9L1140.8 683.4L1143.5 681.3L1146.2 679.5L1148.9 679.2L1151.6 679.0L1154.3 679.8L1157.0 680.6L1159.7 681.2L1162.4 681.4L1165.1 681.1L1167.8 681.3L1170.5 682.4L1173.2 683.4L1175.9 684.3L1178.6 684.3L1181.2 682.1L1183.9 677.4L1186.6 673.1L1189.3 669.9L1192.0 652.6L1194.7 653.1L1197.4 645.3L1200.1 640.0L1202.8 637.7L1205.5 636.3L1208.2 641.4L1210.9 643.8L1213.6 640.1L1216.3 642.4L1219.0 643.7L1221.7 641.8L1224.4 640.9L1227.1 645.8L1229.8 646.0L1232.5 645.7L1235.2 645.0L1237.9 640.5L1240.6 638.9L1243.3 643.4L1246.0 652.8L1248.7 651.0L1251.4 649.3L1254.1 647.6L1256.8 648.7L1259.5 651.6L1262.2 654.7L1264.9 650.4L1267.6 648.0L1270.3 647.4L1273.0 645.4L1275.7 642.0L1278.4 644.8L1281.1 651.7L1283.8 653.1L1286.5 654.4L1289.2 655.3L1291.9 656.1L1294.6 656.9L1297.3 657.6L1300.0 658.7L1302.7 661.4L1305.4 664.1L1308.1 665.6L1310.8 661.1L1313.5 660.5L1316.2 662.2L1318.8 662.2L1321.5 662.0L1324.2 658.5L1326.9 658.4L1329.6 661.8L1332.3 659.6L1335.0 657.6L1337.7 656.0L1340.4 654.2L1343.1 652.2L1345.8 650.9L1348.5 651.3L1351.2 650.8L1353.9 648.4L1356.6 646.7L1359.3 646.7L1362.0 646.8L1364.7 647.5L1367.4 647.8L1370.1 646.0L1372.8 643.9L1375.5 641.9L1378.2 643.3L1380.9 643.0L1383.6 641.4L1386.3 641.1L1389.0 642.4L1391.7 648.1L1394.4 649.3L1397.1 643.8L1399.8 643.2L1402.5 644.0L1405.2 646.3L1407.9 648.1L1410.6 650.4L1413.3 654.5L1416.0 658.0L1418.7 659.4L1421.4 659.6L1424.1 659.2L1426.8 657.4L1429.5 654.7L1432.2 651.3L1434.9 648.1L1437.6 649.0L1440.3 648.4L1443.0 646.4L1445.7 642.4L1448.4 640.4L1451.0 647.6L1453.7 649.2L1456.4 648.5L1459.1 649.2L1461.8 652.9L1464.5 652.9L1467.2 651.2L1469.9 646.7L1472.6 643.2L1475.3 643.2L1478.0 644.0L1480.7 648.9L1483.4 651.0L1486.1 651.4L1488.8 652.1L1491.5 653.1L1494.2 654.3L1496.9 655.7L1499.6 655.1L1502.3 652.3L1505.0 650.5L1507.7 649.8L1510.4 648.8L1513.1 647.2L1515.8 645.7L1518.5 644.6L1521.2 643.1L1523.9 640.5L1526.6 635.2L1529.3 631.3L1532.0 629.4L1534.7 633.5L1537.4 632.9L1540.1 629.9L1542.8 627.9L1545.5 628.0L1548.2 632.2L1550.9 633.2L1553.6 634.2L1556.3 634.2L1559.0 632.5L1561.7 624.6L1564.4 629.4L1567.1 628.9L1569.8 625.6L1572.5 628.3L1575.2 631.4L1577.9 634.8L1580.6 635.6L1583.3 615.4" stroke="#43a047" stroke-width="1.3" fill="none" stroke-linejoin="round"/>
<path d="M156.0 106.2L158.7 106.2L161.4 126.7L164.1 143.5L166.8 162.5L169.5 189.2L172.2 219.3L174.9 237.9L177.6 257.5L180.3 264.5L183.0 264.5L185.7 264.5L188.4 264.5L191.1 264.5L193.8 264.5L196.5 269.5L199.2 296.8L201.9 336.2L204.6 339.7L207.3 351.0L210.0 373.3L212.7 384.5L215.4 400.3L218.1 405.3L220.8 405.3L223.5 405.3L226.2 405.3L228.9 405.3L231.6 415.0L234.3 424.2L236.9 430.1L239.6 430.1L242.3 430.1L245.0 430.1L247.7 430.1L250.4 430.1L253.1 430.1L255.8 430.1L258.5 430.1L261.2 430.1L263.9 430.1L266.6 430.1L269.3 436.9L272.0 437.3L274.7 437.3L277.4 449.8L280.1 454.2L282.8 460.2L285.5 472.4L288.2 472.8L290.9 472.8L293.6 473.6L296.3 473.6L299.0 478.8L301.7 478.8L304.4 478.8L307.1 478.8M374.5 446.2L377.2 454.1L379.9 463.8L382.6 463.8L385.3 463.8L388.0 463.8L390.7 470.0L393.4 470.0L396.1 476.2L398.8 476.2L401.5 481.8L404.2 481.8L406.9 484.2L409.6 490.4L412.3 495.4L415.0 501.9L417.7 505.3L420.4 523.0L423.1 536.3L425.8 546.1L428.5 552.9L431.2 552.9L433.9 553.0L436.6 553.0L439.3 553.0L442.0 553.0L444.7 553.0L447.4 559.9L450.1 559.9L452.8 559.9L455.5 559.9L458.2 559.9L460.9 559.9L463.6 559.9L466.3 559.9L469.0 559.9L471.7 559.9L474.4 559.9L477.1 559.9L479.8 564.3L482.5 564.3L485.2 564.3L487.9 564.3L490.6 567.3L493.3 571.5L496.0 573.1L498.7 575.7L501.4 583.1L504.1 589.3L506.8 596.3L509.4 605.5L512.1 606.3L514.8 606.3L517.5 606.3L520.2 606.3L522.9 606.3L525.6 606.3L528.3 606.3L531.0 606.3L533.7 606.3L536.4 606.3L539.1 611.4L541.8 611.4L544.5 611.4L547.2 613.0L549.9 613.0L552.6 613.0L555.3 613.0L558.0 613.0L560.7 613.0L563.4 613.0L566.1 613.0L568.8 613.0L571.5 613.0L574.2 613.0L576.9 617.7L579.6 619.6L582.3 623.8L585.0 623.8L587.7 623.8L590.4 623.8L593.1 624.6L595.8 628.3L598.5 628.3L601.2 628.3L603.9 628.3L606.6 628.3L609.3 628.3L612.0 628.3L614.7 628.3L617.4 628.3L620.1 628.3L622.8 628.3L625.5 628.3L628.2 628.3L630.9 628.3L633.6 628.3L636.3 628.3L639.0 628.3L641.6 628.3L644.3 628.3M752.3 623.1L755.0 625.5L757.7 625.5L760.4 625.5L763.1 625.5M879.1 544.3L881.8 548.6L884.5 548.6L887.2 548.6L889.9 553.4L892.6 554.5L895.3 557.7L898.0 562.0L900.7 562.0L903.4 562.0L906.1 562.0L908.8 562.0L911.4 562.0L914.1 562.0L916.8 562.0L919.5 562.0L922.2 562.0L924.9 562.0L927.6 562.0L930.3 562.0L933.0 562.0L935.7 562.0L938.4 562.1L941.1 567.3L943.8 569.3L946.5 575.2L949.2 575.2L951.9 575.2L954.6 575.2L957.3 575.2L960.0 575.8L962.7 575.8L965.4 580.4L968.1 581.7L970.8 586.2L973.5 590.0L976.2 592.3L978.9 592.8L981.6 599.0L984.3 600.2L987.0 600.2L989.7 600.2L992.4 600.2L995.1 600.2L997.8 602.6L1000.5 603.8L1003.2 604.9L1005.9 608.4L1008.6 612.6L1011.3 615.2L1014.0 617.7L1016.7 619.4L1019.4 620.4L1022.1 621.5L1024.8 622.5L1027.5 622.5L1030.2 623.0L1032.9 626.6L1035.6 626.7L1038.3 629.7L1041.0 629.7L1043.7 631.2L1046.3 632.8L1049.0 632.8L1051.7 632.8L1054.4 632.8L1057.1 636.5L1059.8 639.0L1062.5 642.5L1065.2 642.5L1067.9 644.0L1070.6 644.0L1073.3 644.0L1076.0 644.0L1078.7 648.8L1081.4 648.8L1084.1 651.2L1086.8 652.4L1089.5 654.6L1092.2 656.9L1094.9 659.4L1097.6 661.3L1100.3 661.3L1103.0 661.3L1105.7 662.2L1108.4 662.4L1111.1 664.4L1113.8 664.4L1116.5 664.4L1119.2 664.4L1121.9 664.4L1124.6 664.6L1127.3 667.1L1130.0 667.1L1132.7 667.1L1135.4 667.1L1138.1 667.1L1140.8 667.1L1143.5 667.2L1146.2 667.6L1148.9 669.5L1151.6 670.5L1154.3 670.9L1157.0 673.4L1159.7 675.5L1162.4 675.5L1165.1 676.6L1167.8 677.3L1170.5 678.4L1173.2 678.4L1175.9 678.4L1178.6 678.4L1181.2 678.4L1183.9 678.7L1186.6 679.1L1189.3 679.4L1192.0 681.2L1194.7 681.2L1197.4 681.2L1200.1 681.2L1202.8 681.2L1205.5 681.2L1208.2 681.2L1210.9 681.2M1372.8 644.7L1375.5 648.8L1378.2 648.8L1380.9 648.8L1383.6 648.8L1386.3 648.8L1389.0 648.8L1391.7 648.8L1394.4 648.8L1397.1 648.8L1399.8 648.8L1402.5 648.8L1405.2 648.8L1407.9 648.8L1410.6 648.8L1413.3 648.8L1416.0 648.8L1418.7 648.8M1483.4 635.6L1486.1 638.1L1488.8 640.4L1491.5 640.6L1494.2 642.4L1496.9 642.4L1499.6 642.4L1502.3 642.4L1505.0 642.4L1507.7 642.4L1510.4 642.4L1513.1 642.4" stroke="#f23645" stroke-width="1.3" fill="none" stroke-linejoin="round"/>
<path d="M309.8 551.0L312.5 539.4L315.2 531.5L317.9 524.6L320.6 522.9L323.3 522.9L326.0 522.9L328.7 522.9L331.4 522.9L334.1 522.9L336.8 522.9L339.5 522.9L342.2 522.9L344.9 522.9L347.6 517.6L350.3 517.6L353.0 517.6L355.7 517.6L358.4 517.6L361.1 517.6L363.8 517.6L366.5 517.6L369.2 517.6L371.9 517.6M647.0 649.8L649.7 649.8L652.4 647.9L655.1 646.4L657.8 645.4L660.5 644.5L663.2 644.5L665.9 644.5L668.6 644.5L671.3 644.5L674.0 644.5L676.7 644.5L679.4 644.5L682.1 644.5L684.8 644.5L687.5 644.5L690.2 644.5L692.9 644.5L695.6 644.5L698.3 644.5L701.0 644.5L703.7 644.5L706.4 644.5L709.1 644.5L711.8 644.3L714.5 641.1L717.2 641.1L719.9 641.1L722.6 641.1L725.3 641.1L728.0 641.1L730.7 641.1L733.4 641.1L736.1 641.1L738.8 641.1L741.5 641.1L744.2 641.1L746.9 641.1L749.6 641.1M765.8 646.3L768.5 642.1L771.2 641.5L773.9 635.1L776.5 635.1L779.2 635.1L781.9 635.1L784.6 635.1L787.3 635.1L790.0 635.1L792.7 635.1L795.4 635.1L798.1 635.1L800.8 635.1L803.5 635.1L806.2 635.1L808.9 635.1L811.6 629.7L814.3 627.0L817.0 627.0L819.7 623.2L822.4 623.2L825.1 623.2L827.8 614.2L830.5 614.2L833.2 607.8L835.9 607.8L838.6 606.3L841.3 604.1L844.0 598.6L846.7 598.6L849.4 598.6L852.1 598.6L854.8 598.6L857.5 598.6L860.2 598.6L862.9 598.6L865.6 598.6L868.3 598.6L871.0 598.6L873.7 598.6L876.4 598.6M1213.6 689.6L1216.3 688.1L1219.0 688.1L1221.7 687.4L1224.4 687.4L1227.1 687.4L1229.8 687.4L1232.5 687.4L1235.2 687.4L1237.9 687.4L1240.6 687.4L1243.3 687.4L1246.0 687.4L1248.7 687.4L1251.4 687.4L1254.1 686.6L1256.8 683.3L1259.5 682.3L1262.2 671.0L1264.9 671.0L1267.6 671.0L1270.3 667.7L1273.0 665.4L1275.7 665.4L1278.4 665.4L1281.1 665.4L1283.8 665.4L1286.5 665.4L1289.2 665.4L1291.9 665.4L1294.6 665.4L1297.3 665.4L1300.0 665.4L1302.7 665.4L1305.4 665.4L1308.1 664.5L1310.8 664.5L1313.5 664.5L1316.2 664.5L1318.8 664.5L1321.5 664.5L1324.2 664.5L1326.9 664.5L1329.6 664.5L1332.3 664.5L1335.0 664.5L1337.7 664.5L1340.4 664.5L1343.1 662.7L1345.8 662.7L1348.5 662.7L1351.2 662.7L1353.9 662.7L1356.6 662.7L1359.3 662.7L1362.0 662.7L1364.7 662.7L1367.4 662.7L1370.1 662.7M1421.4 666.0L1424.1 661.8L1426.8 661.8L1429.5 661.8L1432.2 661.8L1434.9 661.8L1437.6 661.8L1440.3 661.0L1443.0 658.8L1445.7 658.8L1448.4 658.4L1451.0 658.4L1453.7 655.6L1456.4 655.6L1459.1 655.6L1461.8 655.6L1464.5 655.6L1467.2 655.6L1469.9 655.6L1472.6 655.6L1475.3 655.6L1478.0 655.6L1480.7 655.6M1515.8 661.3L1518.5 661.3L1521.2 661.3L1523.9 661.3L1526.6 661.3L1529.3 661.3L1532.0 661.3L1534.7 661.3L1537.4 661.3L1540.1 661.3L1542.8 661.3L1545.5 661.3L1548.2 661.3L1550.9 661.3L1553.6 661.3L1556.3 661.3L1559.0 661.3L1561.7 661.3L1564.4 661.3L1567.1 661.3L1569.8 661.3L1572.5 661.3L1575.2 661.3L1577.9 661.3L1580.6 661.3L1583.3 661.3L1586.0 660.7L1588.6 658.6L1591.3 658.6L1594.0 655.5L1596.7 649.8L1599.4 649.3L1602.1 649.0L1604.8 649.0L1607.5 649.0L1610.2 646.9L1612.9 646.9L1615.6 646.9L1618.3 646.9L1621.0 646.9L1623.7 646.9L1626.4 646.9L1629.1 646.9L1631.8 646.6L1634.5 646.6L1637.2 646.6L1639.9 646.6L1642.6 646.6L1645.3 646.6L1648.0 646.6L1650.7 646.6" stroke="#4caf50" stroke-width="1.3" fill="none" stroke-linejoin="round"/>
<path d="M14 616.5H1720" stroke="#5fb3a3" stroke-width="1" stroke-dasharray="1 2" fill="none"/>
</g>
<text x="1730.8" y="557.6" font-size="16.5" fill="#b2b5be" font-weight="normal" text-anchor="start" textLength="37.0" lengthAdjust="spacingAndGlyphs" stroke="#b2b5be" stroke-width="0.3">3,000</text>
<text x="1730.8" y="505.1" font-size="16.5" fill="#b2b5be" font-weight="normal" text-anchor="start" textLength="37.0" lengthAdjust="spacingAndGlyphs" stroke="#b2b5be" stroke-width="0.3">4,000</text>
<text x="1730.8" y="452.5" font-size="16.5" fill="#b2b5be" font-weight="normal" text-anchor="start" textLength="37.0" lengthAdjust="spacingAndGlyphs" stroke="#b2b5be" stroke-width="0.3">5,000</text>
<text x="1730.8" y="400.0" font-size="16.5" fill="#b2b5be" font-weight="normal" text-anchor="start" textLength="37.0" lengthAdjust="spacingAndGlyphs" stroke="#b2b5be" stroke-width="0.3">6,000</text>
<text x="1730.8" y="347.5" font-size="16.5" fill="#b2b5be" font-weight="normal" text-anchor="start" textLength="37.0" lengthAdjust="spacingAndGlyphs" stroke="#b2b5be" stroke-width="0.3">7,000</text>
<text x="1730.8" y="295.0" font-size="16.5" fill="#b2b5be" font-weight="normal" text-anchor="start" textLength="37.0" lengthAdjust="spacingAndGlyphs" stroke="#b2b5be" stroke-width="0.3">8,000</text>
<text x="1730.8" y="242.5" font-size="16.5" fill="#b2b5be" font-weight="normal" text-anchor="start" textLength="37.0" lengthAdjust="spacingAndGlyphs" stroke="#b2b5be" stroke-width="0.3">9,000</text>
<text x="1730.8" y="189.9" font-size="16.5" fill="#b2b5be" font-weight="normal" text-anchor="start" textLength="44.5" lengthAdjust="spacingAndGlyphs" stroke="#b2b5be" stroke-width="0.3">10,000</text>
<text x="1730.8" y="137.4" font-size="16.5" fill="#b2b5be" font-weight="normal" text-anchor="start" textLength="44.5" lengthAdjust="spacingAndGlyphs" stroke="#b2b5be" stroke-width="0.3">11,000</text>
<text x="1730.8" y="84.9" font-size="16.5" fill="#b2b5be" font-weight="normal" text-anchor="start" textLength="44.5" lengthAdjust="spacingAndGlyphs" stroke="#b2b5be" stroke-width="0.3">12,000</text>
<text x="169.5" y="781.0" font-size="15" fill="#b2b5be" font-weight="normal" text-anchor="middle" stroke="#b2b5be" stroke-width="0.3">Nis</text>
<text x="250.4" y="781.0" font-size="15" fill="#b2b5be" font-weight="normal" text-anchor="middle" stroke="#b2b5be" stroke-width="0.3">May</text>
<text x="334.1" y="781.0" font-size="15" fill="#b2b5be" font-weight="normal" text-anchor="middle" stroke="#b2b5be" stroke-width="0.3">Haz</text>
<text x="415.0" y="781.0" font-size="15" fill="#b2b5be" font-weight="normal" text-anchor="middle" stroke="#b2b5be" stroke-width="0.3">Tem</text>
<text x="498.7" y="781.0" font-size="15" fill="#b2b5be" font-weight="normal" text-anchor="middle" stroke="#b2b5be" stroke-width="0.3">Ağu</text>
<text x="582.3" y="781.0" font-size="15" fill="#b2b5be" font-weight="normal" text-anchor="middle" stroke="#b2b5be" stroke-width="0.3">Eyl</text>
<text x="663.2" y="781.0" font-size="15" fill="#b2b5be" font-weight="normal" text-anchor="middle" stroke="#b2b5be" stroke-width="0.3">Eki</text>
<text x="746.9" y="781.0" font-size="15" fill="#b2b5be" font-weight="normal" text-anchor="middle" stroke="#b2b5be" stroke-width="0.3">Kas</text>
<text x="827.8" y="781.0" font-size="15" fill="#b2b5be" font-weight="normal" text-anchor="middle" stroke="#b2b5be" stroke-width="0.3">Ara</text>
<text x="911.4" y="781.0" font-size="15" fill="#b2b5be" font-weight="bold" text-anchor="middle">2025</text>
<text x="995.1" y="781.0" font-size="15" fill="#b2b5be" font-weight="normal" text-anchor="middle" stroke="#b2b5be" stroke-width="0.3">Şub</text>
<text x="1070.6" y="781.0" font-size="15" fill="#b2b5be" font-weight="normal" text-anchor="middle" stroke="#b2b5be" stroke-width="0.3">Mar</text>
<text x="1154.3" y="781.0" font-size="15" fill="#b2b5be" font-weight="normal" text-anchor="middle" stroke="#b2b5be" stroke-width="0.3">Nis</text>
<text x="1235.2" y="781.0" font-size="15" fill="#b2b5be" font-weight="normal" text-anchor="middle" stroke="#b2b5be" stroke-width="0.3">May</text>
<text x="1318.8" y="781.0" font-size="15" fill="#b2b5be" font-weight="normal" text-anchor="middle" stroke="#b2b5be" stroke-width="0.3">Haz</text>
<text x="1399.8" y="781.0" font-size="15" fill="#b2b5be" font-weight="normal" text-anchor="middle" stroke="#b2b5be" stroke-width="0.3">Tem</text>
<text x="1483.4" y="781.0" font-size="15" fill="#b2b5be" font-weight="normal" text-anchor="middle" stroke="#b2b5be" stroke-width="0.3">Ağu</text>
<text x="1567.1" y="781.0" font-size="15" fill="#b2b5be" font-weight="normal" text-anchor="middle" stroke="#b2b5be" stroke-width="0.3">Eyl</text>
<text x="1648.0" y="781.0" font-size="15" fill="#b2b5be" font-weight="normal" text-anchor="middle" stroke="#b2b5be" stroke-width="0.3">Eki</text>
<rect x="1721" y="35" width="79" height="40.7" fill="#1a1c27"/>
<rect x="1724" y="39" width="72.5" height="32" rx="6" fill="#0f0f0f" stroke="#3a3a3a" stroke-width="2"/>
<text x="1735.4" y="60.0" font-size="15" fill="#d6d6d6" font-weight="normal" text-anchor="start" textLength="35.0" lengthAdjust="spacingAndGlyphs">USDT</text>
<rect x="1720" y="606.1" width="54" height="20.5" fill="#43a047"/>
<text x="1731.8" y="620.6" font-size="16" fill="#f0f8e8" font-weight="normal" text-anchor="start" textLength="36.5" lengthAdjust="spacingAndGlyphs" stroke="#f0f8e8" stroke-width="0.35">1,811</text>
<rect x="1720" y="626.6" width="54" height="21.0" fill="#2962ff"/>
<text x="1731.8" y="641.4" font-size="16" fill="#ffffff" font-weight="normal" text-anchor="start" textLength="36.5" lengthAdjust="spacingAndGlyphs" stroke="#ffffff" stroke-width="0.35">1,604</text>
<rect x="1720" y="647.6" width="54" height="21.2" fill="#a5d6a7"/>
<text x="1731.8" y="662.5" font-size="16" fill="#131722" font-weight="normal" text-anchor="start" textLength="36.5" lengthAdjust="spacingAndGlyphs" stroke="#131722" stroke-width="0.35">1,545</text>
<rect x="1720" y="668.8" width="54" height="21.2" fill="#b71c1c"/>
<text x="1731.8" y="683.7" font-size="16" fill="#ffffff" font-weight="normal" text-anchor="start" textLength="36.5" lengthAdjust="spacingAndGlyphs" stroke="#ffffff" stroke-width="0.35">1,486</text>
<rect x="1720" y="690.0" width="54" height="21.2" fill="#ef9a9a"/>
<text x="1731.8" y="704.9" font-size="16" fill="#131722" font-weight="normal" text-anchor="start" textLength="36.5" lengthAdjust="spacingAndGlyphs" stroke="#131722" stroke-width="0.35">1,408</text>
<rect x="1720" y="711.2" width="54" height="21.2" fill="#f23645"/>
<text x="1731.8" y="726.1" font-size="16" fill="#ffffff" font-weight="normal" text-anchor="start" textLength="36.5" lengthAdjust="spacingAndGlyphs" stroke="#ffffff" stroke-width="0.35">1,310</text>
<rect x="1720" y="732.4" width="54" height="21.2" fill="#4caf50"/>
<text x="1731.8" y="747.3" font-size="16" fill="#ffffff" font-weight="normal" text-anchor="start" textLength="36.5" lengthAdjust="spacingAndGlyphs" stroke="#ffffff" stroke-width="0.35">1,244</text>
<rect x="1720" y="567.1" width="75.3" height="38.8" fill="#089981"/>
<text x="1731.9" y="581.9" font-size="15.5" fill="#ffffff" font-weight="normal" text-anchor="start" textLength="35.0" lengthAdjust="spacingAndGlyphs" stroke="#ffffff" stroke-width="0.35">1,811</text>
<text x="1731.5" y="599.7" font-size="15.5" fill="#d8f0ea" font-weight="normal" text-anchor="start" textLength="58.0" lengthAdjust="spacingAndGlyphs" stroke="#d8f0ea" stroke-width="0.35">02:40:55</text>
<text x="23.6" y="58.9" font-size="15" fill="#d1d4dc" font-weight="normal" text-anchor="start" textLength="214.4" lengthAdjust="spacingAndGlyphs" stroke="#d1d4dc" stroke-width="0.3">ETHFI / TetherUS · 1G · Binance</text>
<text x="247.5" y="58.9" font-size="15" fill="#d1d4dc" font-weight="normal" text-anchor="start" textLength="9.2" lengthAdjust="spacingAndGlyphs" stroke="#d1d4dc" stroke-width="0.3">A</text>
<text x="258.1" y="58.9" font-size="15" fill="#18a088" font-weight="normal" text-anchor="start" textLength="35.0" lengthAdjust="spacingAndGlyphs" stroke="#18a088" stroke-width="0.3">1,432</text>
<text x="302.4" y="58.9" font-size="15" fill="#d1d4dc" font-weight="normal" text-anchor="start" textLength="9.1" lengthAdjust="spacingAndGlyphs" stroke="#d1d4dc" stroke-width="0.3">Y</text>
<text x="313.0" y="58.9" font-size="15" fill="#18a088" font-weight="normal" text-anchor="start" textLength="34.4" lengthAdjust="spacingAndGlyphs" stroke="#18a088" stroke-width="0.3">1,819</text>
<text x="357.3" y="58.9" font-size="15" fill="#d1d4dc" font-weight="normal" text-anchor="start" textLength="9.2" lengthAdjust="spacingAndGlyphs" stroke="#d1d4dc" stroke-width="0.3">D</text>
<text x="367.9" y="58.9" font-size="15" fill="#18a088" font-weight="normal" text-anchor="start" textLength="35.0" lengthAdjust="spacingAndGlyphs" stroke="#18a088" stroke-width="0.3">1,430</text>
<text x="412.2" y="58.9" font-size="15" fill="#d1d4dc" font-weight="normal" text-anchor="start" textLength="9.3" lengthAdjust="spacingAndGlyphs" stroke="#d1d4dc" stroke-width="0.3">K</text>
<text x="422.5" y="58.9" font-size="15" fill="#18a088" font-weight="normal" text-anchor="start" textLength="33.9" lengthAdjust="spacingAndGlyphs" stroke="#18a088" stroke-width="0.3">1,811</text>
<text x="467.6" y="58.9" font-size="15" fill="#18a088" font-weight="normal" text-anchor="start" textLength="112.9" lengthAdjust="spacingAndGlyphs" stroke="#18a088" stroke-width="0.3">+0,380 (+26,55%)</text>
<text x="590.6" y="58.9" font-size="15" fill="#18a088" font-weight="normal" text-anchor="start" textLength="113.1" lengthAdjust="spacingAndGlyphs" stroke="#18a088" stroke-width="0.3">+0,380 (+26,55%)</text>
<text x="23.6" y="79.4" font-size="15" fill="#d1d4dc" font-weight="normal" text-anchor="start" textLength="121.7" lengthAdjust="spacingAndGlyphs" stroke="#d1d4dc" stroke-width="0.3">Supertrend (10, 3)</text>
<text x="156.6" y="79.4" font-size="15" fill="#4caf50" font-weight="normal" text-anchor="start" textLength="35.0" lengthAdjust="spacingAndGlyphs" stroke="#4caf50" stroke-width="0.3">1,244</text>
<text x="202.6" y="80.3" font-size="13.5" fill="#d1d4dc" font-weight="normal" text-anchor="start" textLength="8.0" lengthAdjust="spacingAndGlyphs" stroke="#d1d4dc" stroke-width="0.3">Ø</text>
<text x="23.6" y="100.9" font-size="15" fill="#d1d4dc" font-weight="normal" text-anchor="start" textLength="159.7" lengthAdjust="spacingAndGlyphs" stroke="#d1d4dc" stroke-width="0.3">Ichimoku (9, 26, 52, 26)</text>
<text x="193.9" y="100.9" font-size="15" fill="#2962ff" font-weight="normal" text-anchor="start" textLength="36.4" lengthAdjust="spacingAndGlyphs" stroke="#2962ff" stroke-width="0.3">1,604</text>
<text x="240.2" y="100.9" font-size="15" fill="#b71c1c" font-weight="normal" text-anchor="start" textLength="35.7" lengthAdjust="spacingAndGlyphs" stroke="#b71c1c" stroke-width="0.3">1,486</text>
<text x="285.8" y="100.9" font-size="15" fill="#43a047" font-weight="normal" text-anchor="start" textLength="35.1" lengthAdjust="spacingAndGlyphs" stroke="#43a047" stroke-width="0.3">1,811</text>
<text x="331.5" y="100.9" font-size="15" fill="#a5d6a7" font-weight="normal" text-anchor="start" textLength="36.4" lengthAdjust="spacingAndGlyphs" stroke="#a5d6a7" stroke-width="0.3">1,545</text>
<text x="377.8" y="100.9" font-size="15" fill="#ef9a9a" font-weight="normal" text-anchor="start" textLength="35.7" lengthAdjust="spacingAndGlyphs" stroke="#ef9a9a" stroke-width="0.3">1,408</text>
<text x="13.1" y="24.8" font-size="15" fill="#dcdcdc" font-weight="normal" text-anchor="start" textLength="619.5" lengthAdjust="spacingAndGlyphs" stroke="#dcdcdc" stroke-width="0.5">mesutinan81 tarafından TradingView.com ile Eki 03, 2025 00:19 UTC+3 tarihinde oluşturuldu</text>
<path transform="translate(65,715) scale(0.0576)" d="M150 650 L300 470 Q340 425 420 410 Q500 405 585 470 L585 280 L495 280 L495 240 Q500 170 575 170 Q660 175 660 250 L660 520 Q655 580 575 600 L575 710 L495 710 L495 650 L375 650 L375 710 L295 710 L295 650 Z" fill="none" stroke="#e8e8e8" stroke-width="26" stroke-linejoin="round"/>
<path d="M15.2 820.4H30.8V838.9H22.7V826.2H15.2Z" fill="#dcdcdc"/>
<circle cx="36.9" cy="823.7" r="3.5" fill="#dcdcdc"/>
<path d="M43.6 820.4H52.8L46.1 838.9H36.9Z" fill="#dcdcdc"/>
<text x="62.1" y="838.9" font-size="25.5" fill="#dcdcdc" font-weight="bold" text-anchor="start" textLength="151.1" lengthAdjust="spacingAndGlyphs">TradingView</text></svg>
</body></html>
